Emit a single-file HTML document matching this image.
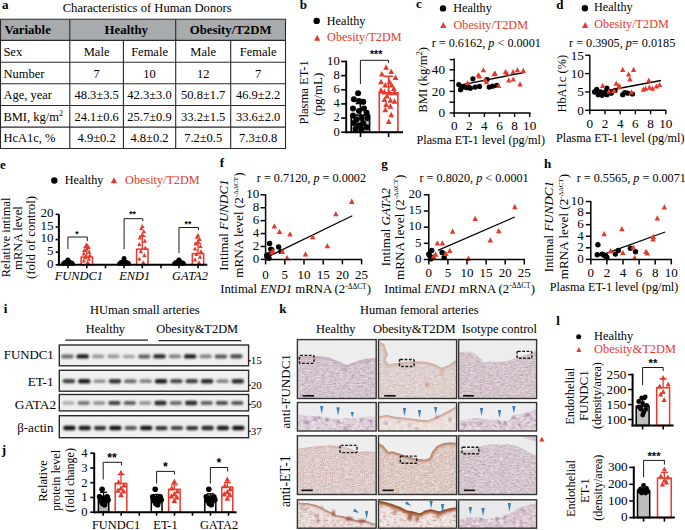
<!DOCTYPE html>
<html><head><meta charset="utf-8"><style>
html,body{margin:0;padding:0;background:#fff;}
svg{display:block;}
text{font-family:"Liberation Serif",serif;}
</style></head><body>
<svg xmlns="http://www.w3.org/2000/svg" width="685" height="530" viewBox="0 0 685 530">
<defs><filter id="bl" x="-50%" y="-100%" width="200%" height="300%"><feGaussianBlur stdDeviation="0.9"/></filter>
<filter id="pk1" x="0" y="0" width="1" height="1" color-interpolation-filters="sRGB"><feTurbulence type="fractalNoise" baseFrequency="0.35 0.9" numOctaves="3" seed="3"/><feColorMatrix type="matrix" values="0 0 0 0 0.647 0 0 0 0 0.549 0 0 0 0 0.627 1.5 0 0 0 -0.58"/><feGaussianBlur stdDeviation="0.4"/></filter>
<filter id="wh1" x="0" y="0" width="1" height="1" color-interpolation-filters="sRGB"><feTurbulence type="fractalNoise" baseFrequency="0.2 0.7" numOctaves="2" seed="8"/><feColorMatrix type="matrix" values="0 0 0 0 0.941 0 0 0 0 0.925 0 0 0 0 0.933 1.6 0 0 0 -0.68"/><feGaussianBlur stdDeviation="0.4"/></filter>
<filter id="br1" x="0" y="0" width="1" height="1" color-interpolation-filters="sRGB"><feTurbulence type="fractalNoise" baseFrequency="0.9" numOctaves="2" seed="5"/><feColorMatrix type="matrix" values="0 0 0 0 0.686 0 0 0 0 0.529 0 0 0 0 0.490 1.2 0 0 0 -0.48"/><feGaussianBlur stdDeviation="0.35"/></filter>
<filter id="br2" x="0" y="0" width="1" height="1" color-interpolation-filters="sRGB"><feTurbulence type="fractalNoise" baseFrequency="0.9" numOctaves="2" seed="11"/><feColorMatrix type="matrix" values="0 0 0 0 0.686 0 0 0 0 0.490 0 0 0 0 0.439 1.4 0 0 0 -0.55"/><feGaussianBlur stdDeviation="0.35"/></filter>
<filter id="pu2" x="0" y="0" width="1" height="1" color-interpolation-filters="sRGB"><feTurbulence type="fractalNoise" baseFrequency="0.3 0.5" numOctaves="2" seed="7"/><feColorMatrix type="matrix" values="0 0 0 0 0.647 0 0 0 0 0.529 0 0 0 0 0.667 1.6 0 0 0 -0.72"/><feGaussianBlur stdDeviation="0.5"/></filter>
<filter id="wh2" x="0" y="0" width="1" height="1" color-interpolation-filters="sRGB"><feTurbulence type="fractalNoise" baseFrequency="0.25 0.4" numOctaves="2" seed="17"/><feColorMatrix type="matrix" values="0 0 0 0 0.973 0 0 0 0 0.957 0 0 0 0 0.965 2.0 0 0 0 -0.85"/><feGaussianBlur stdDeviation="0.5"/></filter>
<filter id="br3" x="0" y="0" width="1" height="1" color-interpolation-filters="sRGB"><feTurbulence type="fractalNoise" baseFrequency="0.3 0.5" numOctaves="2" seed="19"/><feColorMatrix type="matrix" values="0 0 0 0 0.667 0 0 0 0 0.412 0 0 0 0 0.353 1.8 0 0 0 -0.85"/><feGaussianBlur stdDeviation="0.5"/></filter>
<filter id="sb" x="-20%" y="-50%" width="140%" height="200%"><feGaussianBlur stdDeviation="0.8"/></filter></defs>
<text x="2" y="8.8" font-size="13" font-weight="bold">a</text>
<text x="62.7" y="12.3" font-size="12.6">Characteristics of Human Donors</text>
<rect x="0.5" y="19.2" width="285.0" height="21.2" fill="#a8abad"/>
<line x1="0" y1="19.2" x2="286" y2="19.2" stroke="#2a2a2a" stroke-width="1.1"/>
<line x1="0" y1="40.4" x2="286" y2="40.4" stroke="#2a2a2a" stroke-width="1.1"/>
<line x1="0" y1="62.3" x2="286" y2="62.3" stroke="#2a2a2a" stroke-width="1.1"/>
<line x1="0" y1="83.8" x2="286" y2="83.8" stroke="#2a2a2a" stroke-width="1.1"/>
<line x1="0" y1="105.5" x2="286" y2="105.5" stroke="#2a2a2a" stroke-width="1.1"/>
<line x1="0" y1="127.1" x2="286" y2="127.1" stroke="#2a2a2a" stroke-width="1.1"/>
<line x1="0" y1="148.5" x2="286" y2="148.5" stroke="#2a2a2a" stroke-width="1.1"/>
<line x1="0.5" y1="19.2" x2="0.5" y2="148.5" stroke="#2a2a2a" stroke-width="1.1"/>
<line x1="69.8" y1="19.2" x2="69.8" y2="148.5" stroke="#2a2a2a" stroke-width="1.1"/>
<line x1="123.4" y1="40.4" x2="123.4" y2="148.5" stroke="#2a2a2a" stroke-width="1.1"/>
<line x1="175.7" y1="19.2" x2="175.7" y2="148.5" stroke="#2a2a2a" stroke-width="1.1"/>
<line x1="230.7" y1="40.4" x2="230.7" y2="148.5" stroke="#2a2a2a" stroke-width="1.1"/>
<line x1="285.5" y1="19.2" x2="285.5" y2="148.5" stroke="#2a2a2a" stroke-width="1.1"/>
<text x="4.4" y="34.1" font-size="12.8" font-weight="bold">Variable</text>
<text x="126.3" y="34.1" font-size="12.8" font-weight="bold" text-anchor="middle">Healthy</text>
<text x="230.6" y="34.1" font-size="12.8" font-weight="bold" text-anchor="middle">Obesity/T2DM</text>
<text x="3.4" y="55.599999999999994" font-size="12.5">Sex</text>
<text x="96.6" y="55.599999999999994" font-size="12.5" text-anchor="middle">Male</text>
<text x="149.55" y="55.599999999999994" font-size="12.5" text-anchor="middle">Female</text>
<text x="203.2" y="55.599999999999994" font-size="12.5" text-anchor="middle">Male</text>
<text x="258.1" y="55.599999999999994" font-size="12.5" text-anchor="middle">Female</text>
<text x="3.4" y="77.5" font-size="12.5">Number</text>
<text x="96.6" y="77.5" font-size="12.5" text-anchor="middle">7</text>
<text x="149.55" y="77.5" font-size="12.5" text-anchor="middle">10</text>
<text x="203.2" y="77.5" font-size="12.5" text-anchor="middle">12</text>
<text x="258.1" y="77.5" font-size="12.5" text-anchor="middle">7</text>
<text x="3.4" y="99.0" font-size="12.5">Age, year</text>
<text x="96.6" y="99.0" font-size="12.5" text-anchor="middle">48.3±3.5</text>
<text x="149.55" y="99.0" font-size="12.5" text-anchor="middle">42.3±3.0</text>
<text x="203.2" y="99.0" font-size="12.5" text-anchor="middle">50.8±1.7</text>
<text x="258.1" y="99.0" font-size="12.5" text-anchor="middle">46.9±2.2</text>
<text x="3.4" y="120.7" font-size="12.5">BMI, kg/m<tspan font-size="8" dy="-4.5">2</tspan></text>
<text x="96.6" y="120.7" font-size="12.5" text-anchor="middle">24.1±0.6</text>
<text x="149.55" y="120.7" font-size="12.5" text-anchor="middle">25.7±0.9</text>
<text x="203.2" y="120.7" font-size="12.5" text-anchor="middle">33.2±1.5</text>
<text x="258.1" y="120.7" font-size="12.5" text-anchor="middle">33.6±2.0</text>
<text x="3.4" y="142.29999999999998" font-size="12.5">HcA1c, %</text>
<text x="96.6" y="142.29999999999998" font-size="12.5" text-anchor="middle">4.9±0.2</text>
<text x="149.55" y="142.29999999999998" font-size="12.5" text-anchor="middle">4.8±0.2</text>
<text x="203.2" y="142.29999999999998" font-size="12.5" text-anchor="middle">7.2±0.5</text>
<text x="258.1" y="142.29999999999998" font-size="12.5" text-anchor="middle">7.3±0.8</text>
<text x="299.8" y="8.8" font-size="13" font-weight="bold">b</text>
<circle cx="316.7" cy="20.9" r="3.2" fill="#000"/>
<text x="326.8" y="24.9" font-size="12.2">Healthy</text>
<path d="M314.1 40.8L317.2 34.8L320.3 40.8Z" fill="#e8392a"/>
<text x="327.1" y="41.2" font-size="12.2" fill="#e8392a">Obesity/T2DM</text>
<rect x="351.2" y="115.1" width="18.4" height="17.099999999999994" fill="#b4b4b4" stroke="#000" stroke-width="1.6"/>
<circle cx="358.1" cy="93.3" r="3.0" fill="#000"/>
<circle cx="353.9" cy="99.2" r="3.0" fill="#000"/>
<circle cx="363.2" cy="101.8" r="3.0" fill="#000"/>
<circle cx="359.0" cy="100.9" r="3.0" fill="#000"/>
<circle cx="353.0" cy="108.6" r="3.0" fill="#000"/>
<circle cx="364.0" cy="108.6" r="3.0" fill="#000"/>
<circle cx="359.0" cy="111.1" r="3.0" fill="#000"/>
<circle cx="366.6" cy="112.8" r="3.0" fill="#000"/>
<circle cx="353.0" cy="115.4" r="3.0" fill="#000"/>
<circle cx="361.5" cy="117.9" r="3.0" fill="#000"/>
<circle cx="356.4" cy="119.6" r="3.0" fill="#000"/>
<circle cx="367.4" cy="117.9" r="3.0" fill="#000"/>
<circle cx="353.9" cy="123.0" r="3.0" fill="#000"/>
<circle cx="363.2" cy="123.0" r="3.0" fill="#000"/>
<circle cx="359.0" cy="125.6" r="3.0" fill="#000"/>
<circle cx="366.6" cy="127.2" r="3.0" fill="#000"/>
<circle cx="355.6" cy="128.9" r="3.0" fill="#000"/>
<circle cx="361.5" cy="128.9" r="3.0" fill="#000"/>
<line x1="360.4" y1="115" x2="360.4" y2="103.5" stroke="#000" stroke-width="1.6"/>
<line x1="355.6" y1="103.5" x2="365.4" y2="103.5" stroke="#000" stroke-width="1.6"/>
<rect x="379.3" y="92.8" width="18.6" height="39.39999999999999" fill="none" stroke="#e8392a" stroke-width="1.6"/>
<line x1="388.6" y1="92.8" x2="388.6" y2="76.3" stroke="#e8392a" stroke-width="1.6"/>
<line x1="384" y1="76.3" x2="393.2" y2="76.3" stroke="#e8392a" stroke-width="1.6"/>
<path d="M383.2 69.7L386.1 64.2L389.0 69.7Z" fill="#e8392a"/>
<path d="M388.3 74.0L391.2 68.5L394.1 74.0Z" fill="#e8392a"/>
<path d="M379.0 76.5L381.9 71.0L384.8 76.5Z" fill="#e8392a"/>
<path d="M392.6 79.9L395.5 74.4L398.4 79.9Z" fill="#e8392a"/>
<path d="M378.1 84.2L381.0 78.7L383.9 84.2Z" fill="#e8392a"/>
<path d="M386.6 84.2L389.5 78.7L392.4 84.2Z" fill="#e8392a"/>
<path d="M382.4 87.6L385.3 82.0L388.2 87.6Z" fill="#e8392a"/>
<path d="M388.7 87.6L391.6 82.0L394.5 87.6Z" fill="#e8392a"/>
<path d="M390.9 91.0L393.8 85.4L396.7 91.0Z" fill="#e8392a"/>
<path d="M378.1 92.7L381.0 87.1L383.9 92.7Z" fill="#e8392a"/>
<path d="M381.5 94.4L384.4 88.8L387.3 94.4Z" fill="#e8392a"/>
<path d="M386.6 95.2L389.5 89.7L392.4 95.2Z" fill="#e8392a"/>
<path d="M391.7 95.2L394.6 89.7L397.5 95.2Z" fill="#e8392a"/>
<path d="M384.1 98.6L387.0 93.1L389.9 98.6Z" fill="#e8392a"/>
<path d="M381.5 102.0L384.4 96.5L387.3 102.0Z" fill="#e8392a"/>
<path d="M387.5 102.8L390.4 97.3L393.3 102.8Z" fill="#e8392a"/>
<path d="M391.7 103.7L394.6 98.2L397.5 103.7Z" fill="#e8392a"/>
<path d="M383.2 107.1L386.1 101.6L389.0 107.1Z" fill="#e8392a"/>
<path d="M387.5 108.8L390.4 103.3L393.3 108.8Z" fill="#e8392a"/>
<path d="M382.4 112.2L385.3 106.7L388.2 112.2Z" fill="#e8392a"/>
<path d="M388.3 117.3L391.2 111.8L394.1 117.3Z" fill="#e8392a"/>
<path d="M385.8 124.1L388.7 118.6L391.6 124.1Z" fill="#e8392a"/>
<line x1="346.2" y1="60.7" x2="346.2" y2="133.2" stroke="#000" stroke-width="1.9"/>
<line x1="345.3" y1="132.2" x2="403" y2="132.2" stroke="#000" stroke-width="1.9"/>
<line x1="341.2" y1="132.2" x2="346" y2="132.2" stroke="#000" stroke-width="1.6"/>
<text x="339.7" y="135.5" font-size="12.6" text-anchor="end">0</text>
<line x1="341.2" y1="118.05999999999999" x2="346" y2="118.05999999999999" stroke="#000" stroke-width="1.6"/>
<text x="339.7" y="121.35999999999999" font-size="12.6" text-anchor="end">2</text>
<line x1="341.2" y1="103.91999999999999" x2="346" y2="103.91999999999999" stroke="#000" stroke-width="1.6"/>
<text x="339.7" y="107.21999999999998" font-size="12.6" text-anchor="end">4</text>
<line x1="341.2" y1="89.78" x2="346" y2="89.78" stroke="#000" stroke-width="1.6"/>
<text x="339.7" y="93.08" font-size="12.6" text-anchor="end">6</text>
<line x1="341.2" y1="75.64" x2="346" y2="75.64" stroke="#000" stroke-width="1.6"/>
<text x="339.7" y="78.94" font-size="12.6" text-anchor="end">8</text>
<line x1="341.2" y1="61.5" x2="346" y2="61.5" stroke="#000" stroke-width="1.6"/>
<text x="339.7" y="64.8" font-size="12.6" text-anchor="end">10</text>
<line x1="360.5" y1="132.2" x2="360.5" y2="137" stroke="#000" stroke-width="1.6"/>
<line x1="388.6" y1="132.2" x2="388.6" y2="137" stroke="#000" stroke-width="1.6"/>
<path d="M360.4 84V60.3H388.6V63" fill="none" stroke="#000" stroke-width="0.9"/>
<text x="376.1" y="58.0" font-size="10.5" font-weight="bold" text-anchor="middle" style="font-family:'Liberation Sans',sans-serif">***</text>
<text transform="translate(307.9,124.6) rotate(-90)" font-size="12.65">Plasma ET-1</text>
<text transform="translate(321.6,94.2) rotate(-90)" font-size="12.9" text-anchor="middle">(pg/mL)</text>
<text x="416" y="7.8" font-size="13" font-weight="bold">c</text>
<circle cx="443.0" cy="8.4" r="3.2" fill="#000"/>
<text x="453.2" y="11.8" font-size="12.2">Healthy</text>
<path d="M440.2 27.9L443.3 21.9L446.4 27.9Z" fill="#e8392a"/>
<text x="453.5" y="28.7" font-size="12.2" fill="#e8392a">Obesity/T2DM</text>
<text x="431.7" y="46.9" font-size="12.2">r = 0.6162, <tspan font-style="italic">p</tspan> &lt; 0.0001</text>
<line x1="458.8" y1="85.4" x2="524" y2="72.5" stroke="#000" stroke-width="1.3"/>
<circle cx="458.8" cy="84.5" r="2.6" fill="#000"/>
<circle cx="460.6" cy="89.7" r="2.6" fill="#000"/>
<circle cx="463.2" cy="87.1" r="2.6" fill="#000"/>
<circle cx="466.0" cy="86.4" r="2.6" fill="#000"/>
<circle cx="468.6" cy="87.1" r="2.6" fill="#000"/>
<circle cx="470.3" cy="88.2" r="2.6" fill="#000"/>
<circle cx="472.9" cy="78.8" r="2.6" fill="#000"/>
<circle cx="475.1" cy="87.1" r="2.6" fill="#000"/>
<circle cx="479.5" cy="86.4" r="2.6" fill="#000"/>
<circle cx="487.1" cy="79.5" r="2.6" fill="#000"/>
<circle cx="489.2" cy="87.1" r="2.6" fill="#000"/>
<circle cx="492.5" cy="86.2" r="2.6" fill="#000"/>
<circle cx="496.8" cy="85.4" r="2.6" fill="#000"/>
<circle cx="461.2" cy="87.1" r="2.6" fill="#000"/>
<circle cx="466.9" cy="87.7" r="2.6" fill="#000"/>
<path d="M464.8 85.3L467.5 80.2L470.2 85.3Z" fill="#e8392a"/>
<path d="M475.7 77.3L478.4 72.2L481.1 77.3Z" fill="#e8392a"/>
<path d="M476.8 78.4L479.5 73.2L482.2 78.4Z" fill="#e8392a"/>
<path d="M480.7 72.3L483.4 67.2L486.1 72.3Z" fill="#e8392a"/>
<path d="M482.2 82.1L484.9 76.9L487.6 82.1Z" fill="#e8392a"/>
<path d="M483.7 84.2L486.4 79.1L489.1 84.2Z" fill="#e8392a"/>
<path d="M491.5 76.2L494.2 71.1L496.9 76.2Z" fill="#e8392a"/>
<path d="M492.4 75.8L495.1 70.6L497.8 75.8Z" fill="#e8392a"/>
<path d="M495.9 88.1L498.6 83.0L501.3 88.1Z" fill="#e8392a"/>
<path d="M502.8 74.0L505.5 68.9L508.2 74.0Z" fill="#e8392a"/>
<path d="M504.3 75.8L507.0 70.6L509.7 75.8Z" fill="#e8392a"/>
<path d="M506.1 82.5L508.8 77.4L511.5 82.5Z" fill="#e8392a"/>
<path d="M510.4 74.0L513.1 68.9L515.8 74.0Z" fill="#e8392a"/>
<path d="M510.6 81.6L513.3 76.5L516.0 81.6Z" fill="#e8392a"/>
<path d="M514.7 72.3L517.4 67.2L520.1 72.3Z" fill="#e8392a"/>
<path d="M517.3 86.4L520.0 81.3L522.7 86.4Z" fill="#e8392a"/>
<path d="M520.6 72.9L523.3 67.8L526.0 72.9Z" fill="#e8392a"/>
<line x1="454.2" y1="58.4" x2="454.2" y2="113.7" stroke="#000" stroke-width="1.4"/>
<line x1="453.5" y1="113.0" x2="530.5" y2="113.0" stroke="#000" stroke-width="1.4"/>
<line x1="449.59999999999997" y1="102.2" x2="454.2" y2="102.2" stroke="#000" stroke-width="1.4"/>
<line x1="449.59999999999997" y1="80.6" x2="454.2" y2="80.6" stroke="#000" stroke-width="1.4"/>
<line x1="449.59999999999997" y1="59.6" x2="454.2" y2="59.6" stroke="#000" stroke-width="1.4"/>
<line x1="449.59999999999997" y1="113.0" x2="454.2" y2="113.0" stroke="#000" stroke-width="1.4"/>
<text x="445.0" y="117.2" font-size="13.2" text-anchor="end">0</text>
<line x1="449.59999999999997" y1="91.4" x2="454.2" y2="91.4" stroke="#000" stroke-width="1.4"/>
<text x="445.0" y="95.60000000000001" font-size="13.2" text-anchor="end">20</text>
<line x1="449.59999999999997" y1="69.8" x2="454.2" y2="69.8" stroke="#000" stroke-width="1.4"/>
<text x="445.0" y="74.0" font-size="13.2" text-anchor="end">40</text>
<line x1="454.2" y1="113.0" x2="454.2" y2="117.0" stroke="#000" stroke-width="1.4"/>
<text x="454.2" y="129.6" font-size="13.2" text-anchor="middle">0</text>
<line x1="469.3" y1="113.0" x2="469.3" y2="117.0" stroke="#000" stroke-width="1.4"/>
<text x="469.3" y="129.6" font-size="13.2" text-anchor="middle">2</text>
<line x1="484.4" y1="113.0" x2="484.4" y2="117.0" stroke="#000" stroke-width="1.4"/>
<text x="484.4" y="129.6" font-size="13.2" text-anchor="middle">4</text>
<line x1="499.5" y1="113.0" x2="499.5" y2="117.0" stroke="#000" stroke-width="1.4"/>
<text x="499.5" y="129.6" font-size="13.2" text-anchor="middle">6</text>
<line x1="514.6" y1="113.0" x2="514.6" y2="117.0" stroke="#000" stroke-width="1.4"/>
<text x="514.6" y="129.6" font-size="13.2" text-anchor="middle">8</text>
<line x1="529.7" y1="113.0" x2="529.7" y2="117.0" stroke="#000" stroke-width="1.4"/>
<text x="529.7" y="129.6" font-size="13.2" text-anchor="middle">10</text>
<text x="416.5" y="143.5" font-size="12.2">Plasma ET-1 level (pg/ml)</text>
<text transform="translate(426.6,112.8) rotate(-90)" font-size="12.7">BMI (kg/m<tspan font-size="8.2" dy="-4.8">2</tspan><tspan dy="4.8">)</tspan></text>
<text x="556.2" y="8.6" font-size="13" font-weight="bold">d</text>
<circle cx="584.9" cy="8.2" r="3.2" fill="#000"/>
<text x="594" y="11.2" font-size="12.2">Healthy</text>
<path d="M582.0 27.9L585.2 21.9L588.3 27.9Z" fill="#e8392a"/>
<text x="594.3" y="28.2" font-size="12.2" fill="#e8392a">Obesity/T2DM</text>
<text x="569.1" y="46.6" font-size="12.2">r = 0.3905, <tspan font-style="italic">p</tspan>= 0.0185</text>
<line x1="597" y1="92.5" x2="661" y2="80.5" stroke="#000" stroke-width="1.3"/>
<circle cx="594.5" cy="91.9" r="2.6" fill="#000"/>
<circle cx="596.7" cy="89.3" r="2.6" fill="#000"/>
<circle cx="598.2" cy="94.7" r="2.6" fill="#000"/>
<circle cx="600.4" cy="91.9" r="2.6" fill="#000"/>
<circle cx="602.1" cy="95.3" r="2.6" fill="#000"/>
<circle cx="603.8" cy="93.2" r="2.6" fill="#000"/>
<circle cx="605.4" cy="91.9" r="2.6" fill="#000"/>
<circle cx="606.9" cy="88.2" r="2.6" fill="#000"/>
<circle cx="606.9" cy="94.7" r="2.6" fill="#000"/>
<circle cx="609.0" cy="91.9" r="2.6" fill="#000"/>
<circle cx="611.2" cy="93.2" r="2.6" fill="#000"/>
<circle cx="615.1" cy="90.4" r="2.6" fill="#000"/>
<circle cx="622.7" cy="94.7" r="2.6" fill="#000"/>
<circle cx="624.9" cy="92.5" r="2.6" fill="#000"/>
<circle cx="627.7" cy="93.2" r="2.6" fill="#000"/>
<circle cx="632.5" cy="94.0" r="2.6" fill="#000"/>
<circle cx="595.6" cy="91.9" r="2.6" fill="#000"/>
<circle cx="599.5" cy="93.2" r="2.6" fill="#000"/>
<path d="M600.0 87.9L602.7 82.8L605.4 87.9Z" fill="#e8392a"/>
<path d="M606.3 93.6L609.0 88.4L611.7 93.6Z" fill="#e8392a"/>
<path d="M611.3 92.9L614.0 87.8L616.7 92.9Z" fill="#e8392a"/>
<path d="M613.5 85.8L616.2 80.6L618.9 85.8Z" fill="#e8392a"/>
<path d="M616.3 87.9L619.0 82.8L621.7 87.9Z" fill="#e8392a"/>
<path d="M617.2 89.2L619.9 84.1L622.6 89.2Z" fill="#e8392a"/>
<path d="M620.0 71.9L622.7 66.7L625.4 71.9Z" fill="#e8392a"/>
<path d="M625.9 76.6L628.6 71.5L631.3 76.6Z" fill="#e8392a"/>
<path d="M627.2 81.4L629.9 76.3L632.6 81.4Z" fill="#e8392a"/>
<path d="M628.7 94.4L631.4 89.3L634.1 94.4Z" fill="#e8392a"/>
<path d="M630.9 71.9L633.6 66.7L636.3 71.9Z" fill="#e8392a"/>
<path d="M640.6 91.8L643.3 86.7L646.0 91.8Z" fill="#e8392a"/>
<path d="M642.8 90.7L645.5 85.6L648.2 90.7Z" fill="#e8392a"/>
<path d="M646.1 82.7L648.8 77.6L651.5 82.7Z" fill="#e8392a"/>
<path d="M646.7 89.7L649.4 84.5L652.1 89.7Z" fill="#e8392a"/>
<path d="M649.8 90.7L652.5 85.6L655.2 90.7Z" fill="#e8392a"/>
<path d="M653.7 88.6L656.4 83.4L659.1 88.6Z" fill="#e8392a"/>
<path d="M656.9 87.1L659.6 81.9L662.3 87.1Z" fill="#e8392a"/>
<line x1="589.8" y1="55" x2="589.8" y2="111.0" stroke="#000" stroke-width="1.4"/>
<line x1="589.0999999999999" y1="110.3" x2="666.2" y2="110.3" stroke="#000" stroke-width="1.4"/>
<line x1="585.1999999999999" y1="110.3" x2="589.8" y2="110.3" stroke="#000" stroke-width="1.4"/>
<text x="583.9" y="114.8" font-size="13.2" text-anchor="end">0</text>
<line x1="585.1999999999999" y1="91.94999999999999" x2="589.8" y2="91.94999999999999" stroke="#000" stroke-width="1.4"/>
<text x="583.9" y="96.44999999999999" font-size="13.2" text-anchor="end">5</text>
<line x1="585.1999999999999" y1="73.6" x2="589.8" y2="73.6" stroke="#000" stroke-width="1.4"/>
<text x="583.9" y="78.1" font-size="13.2" text-anchor="end">10</text>
<line x1="585.1999999999999" y1="55.24999999999999" x2="589.8" y2="55.24999999999999" stroke="#000" stroke-width="1.4"/>
<text x="583.9" y="59.74999999999999" font-size="13.2" text-anchor="end">15</text>
<line x1="589.8" y1="110.3" x2="589.8" y2="114.3" stroke="#000" stroke-width="1.4"/>
<text x="589.8" y="128.3" font-size="13.2" text-anchor="middle">0</text>
<line x1="605.0" y1="110.3" x2="605.0" y2="114.3" stroke="#000" stroke-width="1.4"/>
<text x="605.0" y="128.3" font-size="13.2" text-anchor="middle">2</text>
<line x1="620.1999999999999" y1="110.3" x2="620.1999999999999" y2="114.3" stroke="#000" stroke-width="1.4"/>
<text x="620.1999999999999" y="128.3" font-size="13.2" text-anchor="middle">4</text>
<line x1="635.4" y1="110.3" x2="635.4" y2="114.3" stroke="#000" stroke-width="1.4"/>
<text x="635.4" y="128.3" font-size="13.2" text-anchor="middle">6</text>
<line x1="650.5999999999999" y1="110.3" x2="650.5999999999999" y2="114.3" stroke="#000" stroke-width="1.4"/>
<text x="650.5999999999999" y="128.3" font-size="13.2" text-anchor="middle">8</text>
<line x1="665.8" y1="110.3" x2="665.8" y2="114.3" stroke="#000" stroke-width="1.4"/>
<text x="665.8" y="128.3" font-size="13.2" text-anchor="middle">10</text>
<text x="556" y="142.4" font-size="12.2">Plasma ET-1 level (pg/ml)</text>
<text transform="translate(566.2,112.6) rotate(-90)" font-size="12.45">HbA1c (%)</text>
<text x="0.0" y="169.4" font-size="13" font-weight="bold">e</text>
<circle cx="54.3" cy="180.5" r="3.2" fill="#000"/>
<text x="64.8" y="184.3" font-size="12.2">Healthy</text>
<path d="M110.8 183.3L113.9 177.3L117.1 183.3Z" fill="#e8392a"/>
<text x="125.1" y="184.3" font-size="12.2" fill="#e8392a">Obesity/T2DM</text>
<text transform="translate(9.6,237.4) rotate(-90)" font-size="12.4" text-anchor="middle">Relative intimal</text>
<text transform="translate(21.9,238.1) rotate(-90)" font-size="12.7" text-anchor="middle">mRNA level</text>
<text transform="translate(35,237.5) rotate(-90)" font-size="12.9" text-anchor="middle">(fold of control)</text>
<circle cx="64.9" cy="262.3" r="2.4" fill="#000"/>
<circle cx="66.9" cy="261.3" r="2.4" fill="#000"/>
<circle cx="69.4" cy="261.8" r="2.4" fill="#000"/>
<circle cx="71.4" cy="262.8" r="2.4" fill="#000"/>
<circle cx="63.4" cy="263.6" r="2.4" fill="#000"/>
<circle cx="72.4" cy="263.6" r="2.4" fill="#000"/>
<circle cx="67.9" cy="259.8" r="2.4" fill="#000"/>
<circle cx="65.9" cy="263.6" r="2.4" fill="#000"/>
<circle cx="69.9" cy="263.6" r="2.4" fill="#000"/>
<rect x="81.1" y="257.1" width="11.4" height="7.7" fill="none" stroke="#e8392a" stroke-width="1.5"/>
<line x1="86.8" y1="257.1" x2="86.8" y2="247.5" stroke="#e8392a" stroke-width="1.4"/>
<line x1="83.3" y1="247.5" x2="90.3" y2="247.5" stroke="#e8392a" stroke-width="1.4"/>
<path d="M84.6 246.5L86.8 242.5L89.0 246.5Z" fill="#e8392a"/>
<path d="M83.6 247.7L85.8 243.6L88.0 247.7Z" fill="#e8392a"/>
<path d="M86.1 249.0L88.3 245.0L90.5 249.0Z" fill="#e8392a"/>
<path d="M84.6 250.5L86.8 246.5L89.0 250.5Z" fill="#e8392a"/>
<path d="M82.1 252.1L84.3 248.0L86.5 252.1Z" fill="#e8392a"/>
<path d="M87.1 253.7L89.3 249.6L91.5 253.7Z" fill="#e8392a"/>
<path d="M81.6 255.4L83.8 251.3L86.0 255.4Z" fill="#e8392a"/>
<path d="M87.6 257.1L89.8 253.0L92.0 257.1Z" fill="#e8392a"/>
<path d="M83.1 258.9L85.3 254.8L87.5 258.9Z" fill="#e8392a"/>
<path d="M86.6 260.7L88.8 256.6L91.0 260.7Z" fill="#e8392a"/>
<path d="M81.6 262.5L83.8 258.4L86.0 262.5Z" fill="#e8392a"/>
<path d="M85.6 264.3L87.8 260.3L90.0 264.3Z" fill="#e8392a"/>
<path d="M67.9 249V237H87.3V241" fill="none" stroke="#000" stroke-width="0.9"/>
<text x="76.8" y="237.1" font-size="8.5" font-weight="bold" text-anchor="middle" style="font-family:'Liberation Sans',sans-serif">*</text>
<text x="78.85" y="279.8" font-size="12.4" font-style="italic" text-anchor="middle">FUNDC1</text>
<circle cx="121.1" cy="262.3" r="2.4" fill="#000"/>
<circle cx="123.1" cy="261.3" r="2.4" fill="#000"/>
<circle cx="125.6" cy="261.8" r="2.4" fill="#000"/>
<circle cx="127.6" cy="262.8" r="2.4" fill="#000"/>
<circle cx="119.6" cy="263.6" r="2.4" fill="#000"/>
<circle cx="128.6" cy="263.6" r="2.4" fill="#000"/>
<circle cx="124.1" cy="258.3" r="2.4" fill="#000"/>
<circle cx="122.1" cy="263.6" r="2.4" fill="#000"/>
<circle cx="126.1" cy="263.6" r="2.4" fill="#000"/>
<rect x="136.6" y="249.2" width="11.4" height="15.6" fill="none" stroke="#e8392a" stroke-width="1.5"/>
<line x1="142.3" y1="249.2" x2="142.3" y2="236.3" stroke="#e8392a" stroke-width="1.4"/>
<line x1="138.8" y1="236.3" x2="145.8" y2="236.3" stroke="#e8392a" stroke-width="1.4"/>
<path d="M140.2 228.0L142.3 224.0L144.5 228.0Z" fill="#e8392a"/>
<path d="M139.2 230.3L141.3 226.3L143.5 230.3Z" fill="#e8392a"/>
<path d="M141.7 233.2L143.8 229.1L146.0 233.2Z" fill="#e8392a"/>
<path d="M140.2 236.2L142.3 232.1L144.5 236.2Z" fill="#e8392a"/>
<path d="M137.7 239.4L139.8 235.3L142.0 239.4Z" fill="#e8392a"/>
<path d="M142.7 242.7L144.8 238.6L147.0 242.7Z" fill="#e8392a"/>
<path d="M137.2 246.1L139.3 242.0L141.5 246.1Z" fill="#e8392a"/>
<path d="M143.2 249.6L145.3 245.5L147.5 249.6Z" fill="#e8392a"/>
<path d="M138.7 253.2L140.8 249.1L143.0 253.2Z" fill="#e8392a"/>
<path d="M142.2 256.9L144.3 252.8L146.5 256.9Z" fill="#e8392a"/>
<path d="M137.2 260.6L139.3 256.5L141.5 260.6Z" fill="#e8392a"/>
<path d="M141.2 264.3L143.3 260.3L145.5 264.3Z" fill="#e8392a"/>
<path d="M124.1 249.2V218.7H142.8V221" fill="none" stroke="#000" stroke-width="0.9"/>
<text x="132.6" y="217.2" font-size="8.5" font-weight="bold" text-anchor="middle" style="font-family:'Liberation Sans',sans-serif">**</text>
<text x="134.7" y="279.8" font-size="12.4" font-style="italic" text-anchor="middle">END1</text>
<circle cx="176.0" cy="262.3" r="2.4" fill="#000"/>
<circle cx="178.0" cy="261.3" r="2.4" fill="#000"/>
<circle cx="180.5" cy="261.8" r="2.4" fill="#000"/>
<circle cx="182.5" cy="262.8" r="2.4" fill="#000"/>
<circle cx="174.5" cy="263.6" r="2.4" fill="#000"/>
<circle cx="183.5" cy="263.6" r="2.4" fill="#000"/>
<circle cx="179.0" cy="259.8" r="2.4" fill="#000"/>
<circle cx="177.0" cy="263.6" r="2.4" fill="#000"/>
<circle cx="181.0" cy="263.6" r="2.4" fill="#000"/>
<rect x="192.3" y="253.7" width="11.4" height="11.1" fill="none" stroke="#e8392a" stroke-width="1.5"/>
<line x1="198" y1="253.7" x2="198" y2="243.5" stroke="#e8392a" stroke-width="1.4"/>
<line x1="194.5" y1="243.5" x2="201.5" y2="243.5" stroke="#e8392a" stroke-width="1.4"/>
<path d="M195.8 237.0L198.0 233.0L200.2 237.0Z" fill="#e8392a"/>
<path d="M194.8 238.8L197.0 234.7L199.2 238.8Z" fill="#e8392a"/>
<path d="M197.3 240.9L199.5 236.8L201.7 240.9Z" fill="#e8392a"/>
<path d="M195.8 243.2L198.0 239.1L200.2 243.2Z" fill="#e8392a"/>
<path d="M193.3 245.6L195.5 241.5L197.7 245.6Z" fill="#e8392a"/>
<path d="M198.3 248.1L200.5 244.0L202.7 248.1Z" fill="#e8392a"/>
<path d="M192.8 250.6L195.0 246.6L197.2 250.6Z" fill="#e8392a"/>
<path d="M198.8 253.3L201.0 249.2L203.2 253.3Z" fill="#e8392a"/>
<path d="M194.3 256.0L196.5 251.9L198.7 256.0Z" fill="#e8392a"/>
<path d="M197.8 258.7L200.0 254.6L202.2 258.7Z" fill="#e8392a"/>
<path d="M192.8 261.5L195.0 257.4L197.2 261.5Z" fill="#e8392a"/>
<path d="M196.8 264.3L199.0 260.3L201.2 264.3Z" fill="#e8392a"/>
<path d="M179 253.2V227.5H198.5V230" fill="none" stroke="#000" stroke-width="0.9"/>
<text x="187.9" y="226.7" font-size="8.5" font-weight="bold" text-anchor="middle" style="font-family:'Liberation Sans',sans-serif">**</text>
<text x="190.0" y="279.8" font-size="12.4" font-style="italic" text-anchor="middle">GATA2</text>
<line x1="58.9" y1="214.3" x2="58.9" y2="265.8" stroke="#000" stroke-width="2"/>
<line x1="57.9" y1="264.8" x2="207.3" y2="264.8" stroke="#000" stroke-width="2"/>
<line x1="55.6" y1="264.8" x2="58.9" y2="264.8" stroke="#000" stroke-width="1.6"/>
<text x="53.6" y="267.6" font-size="13.0" text-anchor="end">0</text>
<line x1="55.6" y1="252.18" x2="58.9" y2="252.18" stroke="#000" stroke-width="1.6"/>
<text x="53.6" y="254.98000000000002" font-size="13.0" text-anchor="end">5</text>
<line x1="55.6" y1="239.56" x2="58.9" y2="239.56" stroke="#000" stroke-width="1.6"/>
<text x="53.6" y="242.36" font-size="13.0" text-anchor="end">10</text>
<line x1="55.6" y1="226.94" x2="58.9" y2="226.94" stroke="#000" stroke-width="1.6"/>
<text x="53.6" y="229.74" font-size="13.0" text-anchor="end">15</text>
<line x1="55.6" y1="214.32000000000002" x2="58.9" y2="214.32000000000002" stroke="#000" stroke-width="1.6"/>
<text x="53.6" y="217.12000000000003" font-size="13.0" text-anchor="end">20</text>
<line x1="67.9" y1="264.8" x2="67.9" y2="268.3" stroke="#000" stroke-width="1.6"/>
<line x1="86.8" y1="264.8" x2="86.8" y2="268.3" stroke="#000" stroke-width="1.6"/>
<line x1="105.5" y1="264.8" x2="105.5" y2="268.3" stroke="#000" stroke-width="1.6"/>
<line x1="124.1" y1="264.8" x2="124.1" y2="268.3" stroke="#000" stroke-width="1.6"/>
<line x1="142.3" y1="264.8" x2="142.3" y2="268.3" stroke="#000" stroke-width="1.6"/>
<line x1="161" y1="264.8" x2="161" y2="268.3" stroke="#000" stroke-width="1.6"/>
<line x1="179" y1="264.8" x2="179" y2="268.3" stroke="#000" stroke-width="1.6"/>
<line x1="198" y1="264.8" x2="198" y2="268.3" stroke="#000" stroke-width="1.6"/>
<text x="219.7" y="167" font-size="13" font-weight="bold">f</text>
<text x="256.8" y="181.7" font-size="12.2">r = 0.7120, <tspan font-style="italic">p</tspan> = 0.0002</text>
<text transform="translate(228.0,225.1) rotate(-90)" font-size="13.0" text-anchor="middle">Intimal <tspan font-style="italic">FUNDC1</tspan></text>
<text transform="translate(242.8,225.1) rotate(-90)" font-size="13.2" text-anchor="middle">mRNA level (2<tspan font-size="7" dy="-5.2">-ΔΔCT</tspan><tspan dy="5.2">)</tspan></text>
<line x1="270.7" y1="255.4" x2="352.3" y2="215.7" stroke="#000" stroke-width="1.2"/>
<circle cx="266.7" cy="255.4" r="2.7" fill="#000"/>
<circle cx="267.9" cy="257.1" r="2.7" fill="#000"/>
<circle cx="269.6" cy="243.5" r="2.7" fill="#000"/>
<circle cx="270.7" cy="249.1" r="2.7" fill="#000"/>
<circle cx="271.8" cy="249.7" r="2.7" fill="#000"/>
<circle cx="268.7" cy="254.8" r="2.7" fill="#000"/>
<circle cx="278.6" cy="246.9" r="2.7" fill="#000"/>
<circle cx="280.9" cy="251.4" r="2.7" fill="#000"/>
<circle cx="267.3" cy="257.6" r="2.7" fill="#000"/>
<circle cx="269.0" cy="258.2" r="2.7" fill="#000"/>
<path d="M271.6 228.5L274.4 223.3L277.1 228.5Z" fill="#e8392a"/>
<path d="M276.7 233.9L279.5 228.7L282.2 233.9Z" fill="#e8392a"/>
<path d="M287.2 236.4L290.0 231.2L292.7 236.4Z" fill="#e8392a"/>
<path d="M270.2 253.2L273.0 247.9L275.7 253.2Z" fill="#e8392a"/>
<path d="M279.6 254.0L282.3 248.8L285.1 254.0Z" fill="#e8392a"/>
<path d="M284.4 260.2L287.1 255.0L289.9 260.2Z" fill="#e8392a"/>
<path d="M302.8 256.5L305.5 251.3L308.3 256.5Z" fill="#e8392a"/>
<path d="M309.9 239.3L312.6 234.0L315.4 239.3Z" fill="#e8392a"/>
<path d="M324.6 248.3L327.3 243.1L330.1 248.3Z" fill="#e8392a"/>
<path d="M333.1 216.3L335.8 211.1L338.6 216.3Z" fill="#e8392a"/>
<path d="M349.0 203.9L351.7 198.6L354.5 203.9Z" fill="#e8392a"/>
<path d="M269.1 254.6L271.8 249.3L274.6 254.6Z" fill="#e8392a"/>
<line x1="265.6" y1="194.3" x2="265.6" y2="260.15" stroke="#000" stroke-width="1.5"/>
<line x1="264.85" y1="259.4" x2="362" y2="259.4" stroke="#000" stroke-width="1.5"/>
<line x1="260.6" y1="259.4" x2="265.6" y2="259.4" stroke="#000" stroke-width="1.5"/>
<text x="259.3" y="262.7" font-size="13.0" text-anchor="end">0</text>
<line x1="260.6" y1="246.48" x2="265.6" y2="246.48" stroke="#000" stroke-width="1.5"/>
<text x="259.3" y="249.78" font-size="13.0" text-anchor="end">2</text>
<line x1="260.6" y1="233.55999999999997" x2="265.6" y2="233.55999999999997" stroke="#000" stroke-width="1.5"/>
<text x="259.3" y="236.85999999999999" font-size="13.0" text-anchor="end">4</text>
<line x1="260.6" y1="220.64" x2="265.6" y2="220.64" stroke="#000" stroke-width="1.5"/>
<text x="259.3" y="223.94" font-size="13.0" text-anchor="end">6</text>
<line x1="260.6" y1="207.71999999999997" x2="265.6" y2="207.71999999999997" stroke="#000" stroke-width="1.5"/>
<text x="259.3" y="211.01999999999998" font-size="13.0" text-anchor="end">8</text>
<line x1="260.6" y1="194.79999999999998" x2="265.6" y2="194.79999999999998" stroke="#000" stroke-width="1.5"/>
<text x="259.3" y="198.1" font-size="13.0" text-anchor="end">10</text>
<line x1="265.6" y1="259.4" x2="265.6" y2="264.4" stroke="#000" stroke-width="1.5"/>
<text x="265.6" y="278.6" font-size="13.0" text-anchor="middle">0</text>
<line x1="284.8" y1="259.4" x2="284.8" y2="264.4" stroke="#000" stroke-width="1.5"/>
<text x="284.8" y="278.6" font-size="13.0" text-anchor="middle">5</text>
<line x1="304.0" y1="259.4" x2="304.0" y2="264.4" stroke="#000" stroke-width="1.5"/>
<text x="304.0" y="278.6" font-size="13.0" text-anchor="middle">10</text>
<line x1="323.20000000000005" y1="259.4" x2="323.20000000000005" y2="264.4" stroke="#000" stroke-width="1.5"/>
<text x="323.20000000000005" y="278.6" font-size="13.0" text-anchor="middle">15</text>
<line x1="342.40000000000003" y1="259.4" x2="342.40000000000003" y2="264.4" stroke="#000" stroke-width="1.5"/>
<text x="342.40000000000003" y="278.6" font-size="13.0" text-anchor="middle">20</text>
<line x1="361.6" y1="259.4" x2="361.6" y2="264.4" stroke="#000" stroke-width="1.5"/>
<text x="361.6" y="278.6" font-size="13.0" text-anchor="middle">25</text>
<text x="220.2" y="293.4" font-size="12.75">Intimal <tspan font-style="italic">END1</tspan> mRNA (2<tspan font-size="7.4" dy="-4.3">-ΔΔCT</tspan><tspan dy="4.3">)</tspan></text>
<text x="381.3" y="168" font-size="13" font-weight="bold">g</text>
<text x="419.5" y="181.7" font-size="12.2">r = 0.8020, <tspan font-style="italic">p</tspan> &lt; 0.0001</text>
<text transform="translate(389.6,227.1) rotate(-90)" font-size="13.0" text-anchor="middle">Intimal <tspan font-style="italic">GATA2</tspan></text>
<text transform="translate(403.6,227.3) rotate(-90)" font-size="13.2" text-anchor="middle">mRNA level (2<tspan font-size="7" dy="-5.2">-ΔΔCT</tspan><tspan dy="5.2">)</tspan></text>
<line x1="437.9" y1="250.4" x2="514.8" y2="217" stroke="#000" stroke-width="1.2"/>
<circle cx="428.8" cy="254.1" r="2.7" fill="#000"/>
<circle cx="431.7" cy="250.4" r="2.7" fill="#000"/>
<circle cx="432.8" cy="257.5" r="2.7" fill="#000"/>
<circle cx="430.8" cy="258.9" r="2.7" fill="#000"/>
<circle cx="442.1" cy="252.4" r="2.7" fill="#000"/>
<circle cx="444.1" cy="257.5" r="2.7" fill="#000"/>
<circle cx="429.4" cy="255.2" r="2.7" fill="#000"/>
<path d="M430.9 258.7L433.6 253.5L436.4 258.7Z" fill="#e8392a"/>
<path d="M432.9 256.7L435.6 251.5L438.4 256.7Z" fill="#e8392a"/>
<path d="M434.6 245.4L437.3 240.2L440.1 245.4Z" fill="#e8392a"/>
<path d="M439.7 245.4L442.4 240.2L445.2 245.4Z" fill="#e8392a"/>
<path d="M443.1 255.9L445.8 250.6L448.6 255.9Z" fill="#e8392a"/>
<path d="M447.0 253.0L449.8 247.8L452.5 253.0Z" fill="#e8392a"/>
<path d="M449.9 233.8L452.6 228.6L455.4 233.8Z" fill="#e8392a"/>
<path d="M465.7 260.7L468.4 255.4L471.2 260.7Z" fill="#e8392a"/>
<path d="M472.5 221.1L475.2 215.8L478.0 221.1Z" fill="#e8392a"/>
<path d="M487.5 242.6L490.2 237.3L493.0 242.6Z" fill="#e8392a"/>
<path d="M496.0 233.2L498.7 228.0L501.5 233.2Z" fill="#e8392a"/>
<path d="M512.1 209.2L514.8 204.0L517.6 209.2Z" fill="#e8392a"/>
<line x1="428.8" y1="194.3" x2="428.8" y2="260.25" stroke="#000" stroke-width="1.5"/>
<line x1="428.05" y1="259.5" x2="525" y2="259.5" stroke="#000" stroke-width="1.5"/>
<line x1="423.8" y1="259.5" x2="428.8" y2="259.5" stroke="#000" stroke-width="1.5"/>
<text x="421.6" y="262.8" font-size="13.0" text-anchor="end">0</text>
<line x1="423.8" y1="243.32" x2="428.8" y2="243.32" stroke="#000" stroke-width="1.5"/>
<text x="421.6" y="246.62" font-size="13.0" text-anchor="end">5</text>
<line x1="423.8" y1="227.14" x2="428.8" y2="227.14" stroke="#000" stroke-width="1.5"/>
<text x="421.6" y="230.44" font-size="13.0" text-anchor="end">10</text>
<line x1="423.8" y1="210.96" x2="428.8" y2="210.96" stroke="#000" stroke-width="1.5"/>
<text x="421.6" y="214.26000000000002" font-size="13.0" text-anchor="end">15</text>
<line x1="423.8" y1="194.78" x2="428.8" y2="194.78" stroke="#000" stroke-width="1.5"/>
<text x="421.6" y="198.08" font-size="13.0" text-anchor="end">20</text>
<line x1="428.8" y1="259.5" x2="428.8" y2="264.5" stroke="#000" stroke-width="1.5"/>
<text x="428.8" y="276.9" font-size="13.0" text-anchor="middle">0</text>
<line x1="447.90000000000003" y1="259.5" x2="447.90000000000003" y2="264.5" stroke="#000" stroke-width="1.5"/>
<text x="447.90000000000003" y="276.9" font-size="13.0" text-anchor="middle">5</text>
<line x1="467.0" y1="259.5" x2="467.0" y2="264.5" stroke="#000" stroke-width="1.5"/>
<text x="467.0" y="276.9" font-size="13.0" text-anchor="middle">10</text>
<line x1="486.1" y1="259.5" x2="486.1" y2="264.5" stroke="#000" stroke-width="1.5"/>
<text x="486.1" y="276.9" font-size="13.0" text-anchor="middle">15</text>
<line x1="505.20000000000005" y1="259.5" x2="505.20000000000005" y2="264.5" stroke="#000" stroke-width="1.5"/>
<text x="505.20000000000005" y="276.9" font-size="13.0" text-anchor="middle">20</text>
<line x1="524.3" y1="259.5" x2="524.3" y2="264.5" stroke="#000" stroke-width="1.5"/>
<text x="524.3" y="276.9" font-size="13.0" text-anchor="middle">25</text>
<text x="384.2" y="292.6" font-size="12.75">Intimal <tspan font-style="italic">END1</tspan> mRNA (2<tspan font-size="7.4" dy="-4.3">-ΔΔCT</tspan><tspan dy="4.3">)</tspan></text>
<text x="543.9" y="167.5" font-size="13" font-weight="bold">h</text>
<text x="576.7" y="181.7" font-size="12.2">r = 0.5565, <tspan font-style="italic">p</tspan> = 0.0071</text>
<text transform="translate(552.8,226.7) rotate(-90)" font-size="13.0" text-anchor="middle">Intimal <tspan font-style="italic">FUNDC1</tspan></text>
<text transform="translate(567.7,226.6) rotate(-90)" font-size="13.2" text-anchor="middle">mRNA level (2<tspan font-size="7" dy="-5.2">-ΔΔCT</tspan><tspan dy="5.2">)</tspan></text>
<line x1="604.1" y1="254.1" x2="665.2" y2="232" stroke="#000" stroke-width="1.2"/>
<circle cx="597.3" cy="254.7" r="2.7" fill="#000"/>
<circle cx="597.9" cy="244.8" r="2.7" fill="#000"/>
<circle cx="602.1" cy="254.1" r="2.7" fill="#000"/>
<circle cx="604.1" cy="255.2" r="2.7" fill="#000"/>
<circle cx="606.9" cy="257.5" r="2.7" fill="#000"/>
<circle cx="615.4" cy="254.1" r="2.7" fill="#000"/>
<circle cx="618.3" cy="250.4" r="2.7" fill="#000"/>
<circle cx="630.4" cy="248.2" r="2.7" fill="#000"/>
<circle cx="635.5" cy="251.8" r="2.7" fill="#000"/>
<circle cx="605.8" cy="256.1" r="2.7" fill="#000"/>
<path d="M601.4 236.3L604.1 231.1L606.9 236.3Z" fill="#e8392a"/>
<path d="M607.9 253.3L610.6 248.1L613.4 253.3Z" fill="#e8392a"/>
<path d="M619.2 231.3L621.9 226.0L624.7 231.3Z" fill="#e8392a"/>
<path d="M620.0 255.0L622.8 249.8L625.5 255.0Z" fill="#e8392a"/>
<path d="M630.5 249.6L633.3 244.4L636.0 249.6Z" fill="#e8392a"/>
<path d="M631.9 260.1L634.7 254.9L637.4 260.1Z" fill="#e8392a"/>
<path d="M643.2 253.9L646.0 248.7L648.7 253.9Z" fill="#e8392a"/>
<path d="M644.6 255.6L647.4 250.4L650.1 255.6Z" fill="#e8392a"/>
<path d="M650.3 241.4L653.1 236.2L655.8 241.4Z" fill="#e8392a"/>
<path d="M650.6 238.9L653.3 233.7L656.1 238.9Z" fill="#e8392a"/>
<path d="M654.5 220.5L657.3 215.3L660.0 220.5Z" fill="#e8392a"/>
<path d="M661.6 209.5L664.4 204.2L667.1 209.5Z" fill="#e8392a"/>
<line x1="590.8" y1="201.0" x2="590.8" y2="260.15" stroke="#000" stroke-width="1.5"/>
<line x1="590.05" y1="259.4" x2="672" y2="259.4" stroke="#000" stroke-width="1.5"/>
<line x1="585.8" y1="259.4" x2="590.8" y2="259.4" stroke="#000" stroke-width="1.5"/>
<text x="583.8" y="262.7" font-size="13.0" text-anchor="end">0</text>
<line x1="585.8" y1="247.81999999999996" x2="590.8" y2="247.81999999999996" stroke="#000" stroke-width="1.5"/>
<text x="583.8" y="251.11999999999998" font-size="13.0" text-anchor="end">2</text>
<line x1="585.8" y1="236.23999999999998" x2="590.8" y2="236.23999999999998" stroke="#000" stroke-width="1.5"/>
<text x="583.8" y="239.54" font-size="13.0" text-anchor="end">4</text>
<line x1="585.8" y1="224.65999999999997" x2="590.8" y2="224.65999999999997" stroke="#000" stroke-width="1.5"/>
<text x="583.8" y="227.95999999999998" font-size="13.0" text-anchor="end">6</text>
<line x1="585.8" y1="213.07999999999998" x2="590.8" y2="213.07999999999998" stroke="#000" stroke-width="1.5"/>
<text x="583.8" y="216.38" font-size="13.0" text-anchor="end">8</text>
<line x1="585.8" y1="201.49999999999997" x2="590.8" y2="201.49999999999997" stroke="#000" stroke-width="1.5"/>
<text x="583.8" y="204.79999999999998" font-size="13.0" text-anchor="end">10</text>
<line x1="590.8" y1="259.4" x2="590.8" y2="264.4" stroke="#000" stroke-width="1.5"/>
<text x="590.8" y="276.9" font-size="13.0" text-anchor="middle">0</text>
<line x1="606.9" y1="259.4" x2="606.9" y2="264.4" stroke="#000" stroke-width="1.5"/>
<text x="606.9" y="276.9" font-size="13.0" text-anchor="middle">2</text>
<line x1="623.0" y1="259.4" x2="623.0" y2="264.4" stroke="#000" stroke-width="1.5"/>
<text x="623.0" y="276.9" font-size="13.0" text-anchor="middle">4</text>
<line x1="639.0999999999999" y1="259.4" x2="639.0999999999999" y2="264.4" stroke="#000" stroke-width="1.5"/>
<text x="639.0999999999999" y="276.9" font-size="13.0" text-anchor="middle">6</text>
<line x1="655.1999999999999" y1="259.4" x2="655.1999999999999" y2="264.4" stroke="#000" stroke-width="1.5"/>
<text x="655.1999999999999" y="276.9" font-size="13.0" text-anchor="middle">8</text>
<line x1="671.3" y1="259.4" x2="671.3" y2="264.4" stroke="#000" stroke-width="1.5"/>
<text x="671.3" y="276.9" font-size="13.0" text-anchor="middle">10</text>
<text x="549.8" y="291.4" font-size="12.2">Plasma ET-1 level (pg/ml)</text>
<text x="3.7" y="313.4" font-size="13" font-weight="bold">i</text>
<text x="89.9" y="314.4" font-size="12.5">HUman small arteries</text>
<text x="85.8" y="332.8" font-size="12.4">Healthy</text>
<text x="156.2" y="332.8" font-size="12.4">Obesity&amp;T2DM</text>
<line x1="65.4" y1="340.2" x2="148" y2="340.2" stroke="#222" stroke-width="1.2"/>
<line x1="158.6" y1="340.6" x2="241.2" y2="340.6" stroke="#222" stroke-width="1.2"/>
<rect x="59.3" y="345" width="189.3" height="20.80000000000001" fill="#f0f0f0" stroke="#2c2c2c" stroke-width="1.4"/>
<rect x="61.2" y="354.5" width="12.4" height="3.9" rx="2.2" fill="rgb(108,108,108)" filter="url(#bl)"/>
<rect x="76.5" y="354.2" width="12.4" height="4.4" rx="2.2" fill="rgb(31,31,31)" filter="url(#bl)"/>
<rect x="91.9" y="354.6" width="12.4" height="3.6" rx="2.2" fill="rgb(151,151,151)" filter="url(#bl)"/>
<rect x="107.2" y="354.6" width="12.4" height="3.6" rx="2.2" fill="rgb(151,151,151)" filter="url(#bl)"/>
<rect x="122.6" y="354.7" width="12.4" height="3.5" rx="2.2" fill="rgb(162,162,162)" filter="url(#bl)"/>
<rect x="138.0" y="354.4" width="12.4" height="4.0" rx="2.2" fill="rgb(97,97,97)" filter="url(#bl)"/>
<rect x="153.3" y="354.2" width="12.4" height="4.4" rx="2.2" fill="rgb(42,42,42)" filter="url(#bl)"/>
<rect x="168.7" y="354.5" width="12.4" height="3.7" rx="2.2" fill="rgb(129,129,129)" filter="url(#bl)"/>
<rect x="184.0" y="354.2" width="12.4" height="4.4" rx="2.2" fill="rgb(31,31,31)" filter="url(#bl)"/>
<rect x="199.4" y="354.5" width="12.4" height="3.7" rx="2.2" fill="rgb(129,129,129)" filter="url(#bl)"/>
<rect x="214.7" y="354.4" width="12.4" height="4.0" rx="2.2" fill="rgb(86,86,86)" filter="url(#bl)"/>
<rect x="230.1" y="354.3" width="12.4" height="4.1" rx="2.2" fill="rgb(75,75,75)" filter="url(#bl)"/>
<text x="53.6" y="358.6" font-size="12.8" text-anchor="end">FUNDC1</text>
<line x1="248.6" y1="360.8" x2="251.1" y2="360.8" stroke="#000" stroke-width="1.0"/>
<text x="250.8" y="364.40000000000003" font-size="11">15</text>
<rect x="59.3" y="370.3" width="189.3" height="20.899999999999977" fill="#f0f0f0" stroke="#2c2c2c" stroke-width="1.4"/>
<rect x="62.7" y="379.1" width="12.4" height="4.2" rx="2.2" fill="rgb(64,64,64)" filter="url(#bl)"/>
<rect x="78.0" y="379.0" width="12.4" height="4.4" rx="2.2" fill="rgb(31,31,31)" filter="url(#bl)"/>
<rect x="93.4" y="379.4" width="12.4" height="3.6" rx="2.2" fill="rgb(140,140,140)" filter="url(#bl)"/>
<rect x="108.8" y="379.1" width="12.4" height="4.3" rx="2.2" fill="rgb(53,53,53)" filter="url(#bl)"/>
<rect x="124.1" y="379.3" width="12.4" height="3.9" rx="2.2" fill="rgb(108,108,108)" filter="url(#bl)"/>
<rect x="139.5" y="379.3" width="12.4" height="3.7" rx="2.2" fill="rgb(129,129,129)" filter="url(#bl)"/>
<rect x="154.8" y="379.0" width="12.4" height="4.4" rx="2.2" fill="rgb(31,31,31)" filter="url(#bl)"/>
<rect x="170.2" y="379.1" width="12.4" height="4.1" rx="2.2" fill="rgb(75,75,75)" filter="url(#bl)"/>
<rect x="185.5" y="379.1" width="12.4" height="4.2" rx="2.2" fill="rgb(64,64,64)" filter="url(#bl)"/>
<rect x="200.9" y="379.0" width="12.4" height="4.4" rx="2.2" fill="rgb(42,42,42)" filter="url(#bl)"/>
<rect x="216.2" y="379.3" width="12.4" height="3.7" rx="2.2" fill="rgb(129,129,129)" filter="url(#bl)"/>
<rect x="231.6" y="379.0" width="12.4" height="4.4" rx="2.2" fill="rgb(42,42,42)" filter="url(#bl)"/>
<text x="53.6" y="386" font-size="13.2" text-anchor="end">ET-1</text>
<line x1="248.6" y1="385.2" x2="251.1" y2="385.2" stroke="#000" stroke-width="1.0"/>
<text x="250.8" y="388.8" font-size="11">20</text>
<rect x="59.3" y="394.5" width="189.3" height="16.399999999999977" fill="#f0f0f0" stroke="#2c2c2c" stroke-width="1.4"/>
<rect x="62.2" y="401.3" width="12.4" height="3.4" rx="2.2" fill="rgb(173,173,173)" filter="url(#bl)"/>
<rect x="77.5" y="401.1" width="12.4" height="3.8" rx="2.2" fill="rgb(119,119,119)" filter="url(#bl)"/>
<rect x="92.9" y="401.2" width="12.4" height="3.6" rx="2.2" fill="rgb(140,140,140)" filter="url(#bl)"/>
<rect x="108.2" y="400.9" width="12.4" height="4.2" rx="2.2" fill="rgb(64,64,64)" filter="url(#bl)"/>
<rect x="123.6" y="401.0" width="12.4" height="4.0" rx="2.2" fill="rgb(97,97,97)" filter="url(#bl)"/>
<rect x="139.0" y="401.2" width="12.4" height="3.6" rx="2.2" fill="rgb(140,140,140)" filter="url(#bl)"/>
<rect x="154.3" y="400.8" width="12.4" height="4.4" rx="2.2" fill="rgb(42,42,42)" filter="url(#bl)"/>
<rect x="169.7" y="401.1" width="12.4" height="3.9" rx="2.2" fill="rgb(108,108,108)" filter="url(#bl)"/>
<rect x="185.0" y="400.8" width="12.4" height="4.4" rx="2.2" fill="rgb(42,42,42)" filter="url(#bl)"/>
<rect x="200.4" y="401.0" width="12.4" height="4.0" rx="2.2" fill="rgb(97,97,97)" filter="url(#bl)"/>
<rect x="215.7" y="400.9" width="12.4" height="4.1" rx="2.2" fill="rgb(75,75,75)" filter="url(#bl)"/>
<rect x="231.1" y="401.0" width="12.4" height="4.0" rx="2.2" fill="rgb(86,86,86)" filter="url(#bl)"/>
<text x="56.2" y="409" font-size="13.4" text-anchor="end">GATA2</text>
<line x1="248.6" y1="404.4" x2="251.1" y2="404.4" stroke="#000" stroke-width="1.0"/>
<text x="250.8" y="408.0" font-size="11">50</text>
<rect x="59.3" y="415.7" width="189.3" height="22.0" fill="#f0f0f0" stroke="#2c2c2c" stroke-width="1.4"/>
<rect x="63.2" y="425.7" width="12.4" height="4.5" rx="2.2" fill="rgb(20,20,20)" filter="url(#bl)"/>
<rect x="78.5" y="425.8" width="12.4" height="4.4" rx="2.2" fill="rgb(31,31,31)" filter="url(#bl)"/>
<rect x="93.9" y="425.9" width="12.4" height="4.3" rx="2.2" fill="rgb(53,53,53)" filter="url(#bl)"/>
<rect x="109.2" y="425.7" width="12.4" height="4.5" rx="2.2" fill="rgb(20,20,20)" filter="url(#bl)"/>
<rect x="124.6" y="426.0" width="12.4" height="4.0" rx="2.2" fill="rgb(86,86,86)" filter="url(#bl)"/>
<rect x="140.0" y="425.7" width="12.4" height="4.5" rx="2.2" fill="rgb(20,20,20)" filter="url(#bl)"/>
<rect x="155.3" y="425.9" width="12.4" height="4.3" rx="2.2" fill="rgb(53,53,53)" filter="url(#bl)"/>
<rect x="170.7" y="425.9" width="12.4" height="4.2" rx="2.2" fill="rgb(64,64,64)" filter="url(#bl)"/>
<rect x="186.0" y="425.9" width="12.4" height="4.3" rx="2.2" fill="rgb(53,53,53)" filter="url(#bl)"/>
<rect x="201.4" y="425.8" width="12.4" height="4.4" rx="2.2" fill="rgb(42,42,42)" filter="url(#bl)"/>
<rect x="216.7" y="425.8" width="12.4" height="4.4" rx="2.2" fill="rgb(31,31,31)" filter="url(#bl)"/>
<rect x="232.1" y="425.7" width="12.4" height="4.5" rx="2.2" fill="rgb(20,20,20)" filter="url(#bl)"/>
<text x="53.4" y="431.5" font-size="13.0" text-anchor="end">β-actin</text>
<line x1="248.6" y1="431.2" x2="251.1" y2="431.2" stroke="#000" stroke-width="1.0"/>
<text x="250.8" y="434.8" font-size="11">37</text>
<text x="1.7" y="454" font-size="13" font-weight="bold">j</text>
<text transform="translate(46.8,481) rotate(-90)" font-size="12.5" text-anchor="middle">Relative</text>
<text transform="translate(59.6,480.5) rotate(-90)" font-size="12.15" text-anchor="middle">protein level</text>
<text transform="translate(73.8,480.2) rotate(-90)" font-size="12.0" text-anchor="middle">(fold change)</text>
<rect x="98.4" y="497.5" width="10.4" height="14.8" fill="#b4b4b4" stroke="#000" stroke-width="1.5"/>
<line x1="103.6" y1="497.45000000000005" x2="103.6" y2="492.2875" stroke="#000" stroke-width="1.3"/>
<line x1="100.1" y1="492.2875" x2="107.1" y2="492.2875" stroke="#000" stroke-width="1.3"/>
<circle cx="102.1" cy="489.3" r="2.8" fill="#000"/>
<circle cx="99.6" cy="496.7" r="2.8" fill="#000"/>
<circle cx="107.1" cy="496.7" r="2.8" fill="#000"/>
<circle cx="100.6" cy="500.4" r="2.8" fill="#000"/>
<circle cx="106.1" cy="501.1" r="2.8" fill="#000"/>
<circle cx="103.6" cy="498.2" r="2.8" fill="#000"/>
<circle cx="108.1" cy="499.7" r="2.8" fill="#000"/>
<circle cx="102.6" cy="503.4" r="2.8" fill="#000"/>
<circle cx="104.6" cy="504.8" r="2.8" fill="#000"/>
<rect x="115.2" y="483.4" width="11.6" height="28.8" fill="none" stroke="#e8392a" stroke-width="1.5"/>
<line x1="121.0" y1="483.43750000000006" x2="121.0" y2="474.58750000000003" stroke="#e8392a" stroke-width="1.3"/>
<line x1="117.5" y1="474.58750000000003" x2="124.5" y2="474.58750000000003" stroke="#e8392a" stroke-width="1.3"/>
<path d="M118.2 475.0L121.0 469.7L123.8 475.0Z" fill="#e8392a"/>
<path d="M115.7 484.6L118.5 479.3L121.3 484.6Z" fill="#e8392a"/>
<path d="M121.2 487.6L124.0 482.3L126.8 487.6Z" fill="#e8392a"/>
<path d="M118.2 490.5L121.0 485.2L123.8 490.5Z" fill="#e8392a"/>
<path d="M115.2 492.7L118.0 487.4L120.8 492.7Z" fill="#e8392a"/>
<path d="M120.7 493.5L123.5 488.2L126.3 493.5Z" fill="#e8392a"/>
<path d="M118.2 497.2L121.0 491.8L123.8 497.2Z" fill="#e8392a"/>
<path d="M103.2 479.5V462.3H121.5V465.3" fill="none" stroke="#000" stroke-width="0.9"/>
<text x="112.1" y="462.1" font-size="12.3" font-weight="bold" text-anchor="middle" style="font-family:'Liberation Sans',sans-serif">**</text>
<text x="116" y="529" font-size="12.4" text-anchor="middle">FUNDC1</text>
<rect x="151.3" y="497.5" width="10.7" height="14.8" fill="#fff" stroke="#000" stroke-width="1.5"/>
<line x1="156.65" y1="497.45000000000005" x2="156.65" y2="494.50000000000006" stroke="#000" stroke-width="1.3"/>
<line x1="153.15" y1="494.50000000000006" x2="160.15" y2="494.50000000000006" stroke="#000" stroke-width="1.3"/>
<circle cx="155.2" cy="489.3" r="2.8" fill="#000"/>
<circle cx="152.7" cy="496.7" r="2.8" fill="#000"/>
<circle cx="160.2" cy="496.7" r="2.8" fill="#000"/>
<circle cx="153.7" cy="500.4" r="2.8" fill="#000"/>
<circle cx="159.2" cy="501.1" r="2.8" fill="#000"/>
<circle cx="156.7" cy="498.2" r="2.8" fill="#000"/>
<circle cx="161.2" cy="499.7" r="2.8" fill="#000"/>
<circle cx="155.7" cy="503.4" r="2.8" fill="#000"/>
<circle cx="157.7" cy="504.8" r="2.8" fill="#000"/>
<rect x="168.6" y="489.3" width="11.5" height="22.9" fill="none" stroke="#e8392a" stroke-width="1.5"/>
<line x1="174.35" y1="489.33750000000003" x2="174.35" y2="484.9125" stroke="#e8392a" stroke-width="1.3"/>
<line x1="170.85" y1="484.9125" x2="177.85" y2="484.9125" stroke="#e8392a" stroke-width="1.3"/>
<path d="M171.5 483.9L174.3 478.6L177.2 483.9Z" fill="#e8392a"/>
<path d="M169.0 490.5L171.8 485.2L174.7 490.5Z" fill="#e8392a"/>
<path d="M174.5 493.5L177.3 488.2L180.2 493.5Z" fill="#e8392a"/>
<path d="M171.5 496.4L174.3 491.1L177.2 496.4Z" fill="#e8392a"/>
<path d="M168.5 498.6L171.3 493.3L174.2 498.6Z" fill="#e8392a"/>
<path d="M174.0 499.4L176.8 494.1L179.7 499.4Z" fill="#e8392a"/>
<path d="M171.5 503.1L174.3 497.7L177.2 503.1Z" fill="#e8392a"/>
<path d="M156.6 483.5V471.4H174.5V474.6" fill="none" stroke="#000" stroke-width="0.9"/>
<text x="165.4" y="471.1" font-size="12.3" font-weight="bold" text-anchor="middle" style="font-family:'Liberation Sans',sans-serif">*</text>
<text x="165.5" y="529" font-size="12.4" text-anchor="middle">ET-1</text>
<rect x="204.8" y="497.5" width="11.0" height="14.8" fill="#fff" stroke="#000" stroke-width="1.5"/>
<line x1="210.3" y1="497.45000000000005" x2="210.3" y2="493.76250000000005" stroke="#000" stroke-width="1.3"/>
<line x1="206.8" y1="493.76250000000005" x2="213.8" y2="493.76250000000005" stroke="#000" stroke-width="1.3"/>
<circle cx="208.8" cy="489.3" r="2.8" fill="#000"/>
<circle cx="206.3" cy="496.7" r="2.8" fill="#000"/>
<circle cx="213.8" cy="496.7" r="2.8" fill="#000"/>
<circle cx="207.3" cy="500.4" r="2.8" fill="#000"/>
<circle cx="212.8" cy="501.1" r="2.8" fill="#000"/>
<circle cx="210.3" cy="498.2" r="2.8" fill="#000"/>
<circle cx="214.8" cy="499.7" r="2.8" fill="#000"/>
<circle cx="209.3" cy="503.4" r="2.8" fill="#000"/>
<circle cx="211.3" cy="504.8" r="2.8" fill="#000"/>
<rect x="221.8" y="487.1" width="11.0" height="25.1" fill="none" stroke="#e8392a" stroke-width="1.5"/>
<line x1="227.3" y1="487.12500000000006" x2="227.3" y2="482.70000000000005" stroke="#e8392a" stroke-width="1.3"/>
<line x1="223.8" y1="482.70000000000005" x2="230.8" y2="482.70000000000005" stroke="#e8392a" stroke-width="1.3"/>
<path d="M224.5 481.7L227.3 476.4L230.1 481.7Z" fill="#e8392a"/>
<path d="M222.0 488.3L224.8 483.0L227.6 488.3Z" fill="#e8392a"/>
<path d="M227.5 491.3L230.3 485.9L233.1 491.3Z" fill="#e8392a"/>
<path d="M224.5 494.2L227.3 488.9L230.1 494.2Z" fill="#e8392a"/>
<path d="M221.5 496.4L224.3 491.1L227.1 496.4Z" fill="#e8392a"/>
<path d="M227.0 497.2L229.8 491.8L232.6 497.2Z" fill="#e8392a"/>
<path d="M224.5 500.8L227.3 495.5L230.1 500.8Z" fill="#e8392a"/>
<path d="M210.4 483.5V467.5H227.6V471.5" fill="none" stroke="#000" stroke-width="0.9"/>
<text x="218.8" y="467.4" font-size="12.3" font-weight="bold" text-anchor="middle" style="font-family:'Liberation Sans',sans-serif">*</text>
<text x="219" y="529" font-size="12.4" text-anchor="middle">GATA2</text>
<line x1="94.2" y1="452.7" x2="94.2" y2="513.2" stroke="#000" stroke-width="2"/>
<line x1="93.2" y1="512.2" x2="236.6" y2="512.2" stroke="#000" stroke-width="2"/>
<line x1="90.3" y1="512.2" x2="94.2" y2="512.2" stroke="#000" stroke-width="1.6"/>
<text x="87.6" y="516.0" font-size="12.6" text-anchor="end">0</text>
<line x1="90.3" y1="497.45000000000005" x2="94.2" y2="497.45000000000005" stroke="#000" stroke-width="1.6"/>
<text x="87.6" y="501.25000000000006" font-size="12.6" text-anchor="end">1</text>
<line x1="90.3" y1="482.70000000000005" x2="94.2" y2="482.70000000000005" stroke="#000" stroke-width="1.6"/>
<text x="87.6" y="486.50000000000006" font-size="12.6" text-anchor="end">2</text>
<line x1="90.3" y1="467.95000000000005" x2="94.2" y2="467.95000000000005" stroke="#000" stroke-width="1.6"/>
<text x="87.6" y="471.75000000000006" font-size="12.6" text-anchor="end">3</text>
<line x1="90.3" y1="453.20000000000005" x2="94.2" y2="453.20000000000005" stroke="#000" stroke-width="1.6"/>
<text x="87.6" y="457.00000000000006" font-size="12.6" text-anchor="end">4</text>
<line x1="103.2" y1="512.2" x2="103.2" y2="515.7" stroke="#000" stroke-width="1.6"/>
<line x1="121.2" y1="512.2" x2="121.2" y2="515.7" stroke="#000" stroke-width="1.6"/>
<line x1="139.3" y1="512.2" x2="139.3" y2="515.7" stroke="#000" stroke-width="1.6"/>
<line x1="156.6" y1="512.2" x2="156.6" y2="515.7" stroke="#000" stroke-width="1.6"/>
<line x1="174.5" y1="512.2" x2="174.5" y2="515.7" stroke="#000" stroke-width="1.6"/>
<line x1="192.5" y1="512.2" x2="192.5" y2="515.7" stroke="#000" stroke-width="1.6"/>
<line x1="210.5" y1="512.2" x2="210.5" y2="515.7" stroke="#000" stroke-width="1.6"/>
<line x1="228.5" y1="512.2" x2="228.5" y2="515.7" stroke="#000" stroke-width="1.6"/>
<text x="279.2" y="313" font-size="13" font-weight="bold">k</text>
<text x="360" y="314.3" font-size="12.5">Human femoral arteries</text>
<text x="316" y="332.7" font-size="12.5">Healthy</text>
<text x="372.9" y="332.7" font-size="12.5">Obesity&amp;T2DM</text>
<text x="461.7" y="332.7" font-size="12.5">Isotype control</text>
<text transform="translate(289.9,391.4) rotate(-90)" font-size="13" text-anchor="middle">anti-FUNDC1</text>
<text transform="translate(289.9,481.2) rotate(-90)" font-size="13.6" text-anchor="middle">anti-ET-1</text>
<rect x="297.4" y="339.6" width="78.8" height="58.9" fill="#ededed"/>
<clipPath id="c1"><path d="M297.4 398.5 L297.4 356.0 L297.8 356.0 L314.0 356.0 L322.0 356.5 L329.5 357.8 L336.7 360.7 L343.9 363.7 L347.5 364.9 L352.3 363.1 L358.2 360.7 L365.4 358.9 L375.6 357.8 L376.2 357.8 L376.2 398.5Z"/></clipPath>
<path d="M297.4 398.5 L297.4 356.0 L297.8 356.0 L314.0 356.0 L322.0 356.5 L329.5 357.8 L336.7 360.7 L343.9 363.7 L347.5 364.9 L352.3 363.1 L358.2 360.7 L365.4 358.9 L375.6 357.8 L376.2 357.8 L376.2 398.5Z" fill="#d8cad1"/>
<rect x="297.4" y="339.6" width="78.8" height="58.9" filter="url(#pk1)" clip-path="url(#c1)"/>
<rect x="297.4" y="339.6" width="78.8" height="58.9" filter="url(#wh1)" clip-path="url(#c1)"/>
<path d="M297.8 356.0 L297.8 356.0 L314.0 356.0 L322.0 356.5 L329.5 357.8 L336.7 360.7 L343.9 363.7 L347.5 364.9 L352.3 363.1 L358.2 360.7 L365.4 358.9 L375.6 357.8" fill="none" stroke="#b898b0" stroke-width="5" stroke-linejoin="round" clip-path="url(#c1)" opacity="0.45" filter="url(#sb)"/>
<ellipse cx="345" cy="369.5" rx="2.2" ry="1.3" fill="#8a6aa0" opacity="0.6" filter="url(#sb)"/>
<ellipse cx="318" cy="365" rx="1.5" ry="1" fill="#9a7aa8" opacity="0.5" filter="url(#sb)"/>
<ellipse cx="367" cy="362" rx="1.4" ry="1" fill="#9a7aa8" opacity="0.5" filter="url(#sb)"/>
<rect x="299.4" y="355.4" width="14.6" height="8.0" rx="0.8" fill="none" stroke="#1a1a1a" stroke-width="1.4" stroke-dasharray="2.8 1.5"/>
<line x1="302.6" y1="395.8" x2="314" y2="395.8" stroke="#151515" stroke-width="1.7"/>
<rect x="297.4" y="339.6" width="78.8" height="58.9" fill="none" stroke="#333" stroke-width="1.4"/>
<rect x="378.5" y="339.6" width="78.1" height="58.9" fill="#ededed"/>
<clipPath id="c2"><path d="M378.5 398.5 L378.5 341.6 L378.8 341.6 L384.2 344.0 L386.0 350.0 L387.8 354.8 L385.4 360.1 L389.0 364.9 L392.6 363.7 L401.0 362.5 L414.1 361.3 L427.3 361.9 L434.5 364.3 L441.6 367.9 L448.8 364.9 L456.0 360.1 L456.6 360.1 L456.6 398.5Z"/></clipPath>
<path d="M378.5 398.5 L378.5 341.6 L378.8 341.6 L384.2 344.0 L386.0 350.0 L387.8 354.8 L385.4 360.1 L389.0 364.9 L392.6 363.7 L401.0 362.5 L414.1 361.3 L427.3 361.9 L434.5 364.3 L441.6 367.9 L448.8 364.9 L456.0 360.1 L456.6 360.1 L456.6 398.5Z" fill="#e2d6d5"/>
<rect x="378.5" y="339.6" width="78.1" height="58.9" filter="url(#br1)" clip-path="url(#c2)"/>
<rect x="378.5" y="339.6" width="78.1" height="58.9" filter="url(#wh1)" clip-path="url(#c2)"/>
<path d="M378.8 341.6 L378.8 341.6 L384.2 344.0 L386.0 350.0 L387.8 354.8 L385.4 360.1 L389.0 364.9 L392.6 363.7 L401.0 362.5 L414.1 361.3 L427.3 361.9 L434.5 364.3 L441.6 367.9 L448.8 364.9 L456.0 360.1" fill="none" stroke="#cfa898" stroke-width="4" stroke-linejoin="round" clip-path="url(#c2)" opacity="0.7" filter="url(#sb)"/>
<ellipse cx="427" cy="385" rx="1.6" ry="1.8" fill="#b06a40" opacity="0.8" filter="url(#sb)"/>
<ellipse cx="442" cy="373" rx="1.5" ry="3" fill="#c89070" opacity="0.5" filter="url(#sb)"/>
<path d="M378.8 341.6 L378.8 341.6 L384.2 344.0 L386.0 350.0 L387.8 354.8 L385.4 360.1 L389.0 364.9 L392.6 363.7 L401.0 362.5 L414.1 361.3 L427.3 361.9 L434.5 364.3 L441.6 367.9 L448.8 364.9 L456.0 360.1" fill="none" stroke="#c8a090" stroke-width="1.0" stroke-linejoin="round" clip-path="url(#c2)" filter="url(#sb)"/>
<rect x="399.5" y="359.5" width="14.6" height="7.0" rx="0.8" fill="none" stroke="#1a1a1a" stroke-width="1.4" stroke-dasharray="2.8 1.5"/>
<line x1="384.2" y1="395.8" x2="395.6" y2="395.8" stroke="#151515" stroke-width="1.7"/>
<rect x="378.5" y="339.6" width="78.1" height="58.9" fill="none" stroke="#333" stroke-width="1.4"/>
<rect x="458.6" y="339.6" width="78.0" height="58.9" fill="#ededed"/>
<clipPath id="c3"><path d="M458.6 398.5 L458.6 352.1 L458.8 352.1 L469.0 351.8 L473.8 353.0 L477.3 355.4 L480.9 358.9 L484.5 362.5 L490.5 361.3 L497.7 361.9 L504.9 361.3 L508.5 360.7 L513.3 358.9 L516.9 357.8 L524.0 355.4 L531.2 353.0 L536.0 350.6 L536.6 350.6 L536.6 398.5Z"/></clipPath>
<path d="M458.6 398.5 L458.6 352.1 L458.8 352.1 L469.0 351.8 L473.8 353.0 L477.3 355.4 L480.9 358.9 L484.5 362.5 L490.5 361.3 L497.7 361.9 L504.9 361.3 L508.5 360.7 L513.3 358.9 L516.9 357.8 L524.0 355.4 L531.2 353.0 L536.0 350.6 L536.6 350.6 L536.6 398.5Z" fill="#d9c9cf"/>
<rect x="458.6" y="339.6" width="78.0" height="58.9" filter="url(#pk1)" clip-path="url(#c3)"/>
<rect x="458.6" y="339.6" width="78.0" height="58.9" filter="url(#wh1)" clip-path="url(#c3)"/>
<rect x="517.1" y="351.4" width="14.7" height="6.9" rx="0.8" fill="none" stroke="#1a1a1a" stroke-width="1.4" stroke-dasharray="2.8 1.5"/>
<line x1="463" y1="395.8" x2="473.8" y2="395.8" stroke="#151515" stroke-width="1.7"/>
<rect x="458.6" y="339.6" width="78.0" height="58.9" fill="none" stroke="#333" stroke-width="1.4"/>
<rect x="297.4" y="402.5" width="78.8" height="28.5" fill="#ededef"/>
<clipPath id="c4"><path d="M297.4 431.0 L297.4 414.4 L297.8 414.4 L314.0 416.2 L327.1 418.0 L335.5 419.2 L346.3 418.0 L355.9 418.0 L367.8 416.8 L375.0 416.8 L376.2 416.8 L376.2 431.0Z"/></clipPath>
<path d="M297.4 431.0 L297.4 414.4 L297.8 414.4 L314.0 416.2 L327.1 418.0 L335.5 419.2 L346.3 418.0 L355.9 418.0 L367.8 416.8 L375.0 416.8 L376.2 416.8 L376.2 431.0Z" fill="#dfd0d8"/>
<rect x="297.4" y="402.5" width="78.8" height="28.5" filter="url(#pu2)" clip-path="url(#c4)"/>
<rect x="297.4" y="402.5" width="78.8" height="28.5" filter="url(#wh2)" clip-path="url(#c4)"/>
<ellipse cx="306.8" cy="422.7" rx="2.4" ry="1.4" fill="#7a5a90" opacity="0.75" filter="url(#sb)"/>
<ellipse cx="315.2" cy="418.5" rx="1.8" ry="1.2" fill="#7a5a90" opacity="0.7" filter="url(#sb)"/>
<ellipse cx="319.3" cy="417.6" rx="1.5" ry="1.3" fill="#7a5a90" opacity="0.7" filter="url(#sb)"/>
<ellipse cx="327.1" cy="419.4" rx="1.6" ry="1.3" fill="#7a4a60" opacity="0.8" filter="url(#sb)"/>
<ellipse cx="337.9" cy="421.5" rx="2.2" ry="1.2" fill="#7a5a90" opacity="0.65" filter="url(#sb)"/>
<ellipse cx="345.1" cy="428.1" rx="1.4" ry="2" fill="#7a5a90" opacity="0.7" filter="url(#sb)"/>
<ellipse cx="348.7" cy="425.1" rx="1.3" ry="1.2" fill="#7a5a90" opacity="0.6" filter="url(#sb)"/>
<ellipse cx="361.8" cy="420" rx="1.8" ry="1.2" fill="#7a5a90" opacity="0.6" filter="url(#sb)"/>
<ellipse cx="370.2" cy="420.9" rx="1.5" ry="1.5" fill="#7a5a90" opacity="0.8" filter="url(#sb)"/>
<path d="M320.0 406.0L323.4 406.0L321.7 413.8Z" fill="#3f7fb2" transform="rotate(0 321.7 409.9)"/>
<path d="M336.4 407.2L339.8 407.2L338.1 415.6Z" fill="#3f7fb2" transform="rotate(0 338.1 411.4)"/>
<path d="M350.6 411.9L354.0 411.9L352.3 417.4Z" fill="#3f7fb2" transform="rotate(0 352.3 414.65)"/>
<rect x="297.4" y="402.5" width="78.8" height="28.5" fill="none" stroke="#333" stroke-width="1.4"/>
<rect x="378.5" y="402.5" width="78.1" height="28.5" fill="#ededef"/>
<clipPath id="c5"><path d="M378.5 431.0 L378.5 416.2 L378.8 416.2 L386.6 415.0 L395.0 416.8 L406.9 418.0 L418.9 419.8 L428.5 420.3 L436.9 416.8 L444.0 413.2 L451.2 409.6 L456.0 406.6 L456.6 406.6 L456.6 431.0Z"/></clipPath>
<path d="M378.5 431.0 L378.5 416.2 L378.8 416.2 L386.6 415.0 L395.0 416.8 L406.9 418.0 L418.9 419.8 L428.5 420.3 L436.9 416.8 L444.0 413.2 L451.2 409.6 L456.0 406.6 L456.6 406.6 L456.6 431.0Z" fill="#eadbd3"/>
<rect x="378.5" y="402.5" width="78.1" height="28.5" filter="url(#wh2)" clip-path="url(#c5)"/>
<path d="M378.8 416.2 L378.8 416.2 L386.6 415.0 L395.0 416.8 L406.9 418.0 L418.9 419.8 L428.5 420.3 L436.9 416.8 L444.0 413.2 L451.2 409.6 L456.0 406.6" fill="none" stroke="#d0a090" stroke-width="3" stroke-linejoin="round" clip-path="url(#c5)" opacity="0.7" filter="url(#sb)"/>
<ellipse cx="386" cy="423.3" rx="1.8" ry="1.3" fill="#7a5a90" opacity="0.6" filter="url(#sb)"/>
<ellipse cx="398.5" cy="421.5" rx="1.6" ry="1.2" fill="#7a5a90" opacity="0.6" filter="url(#sb)"/>
<ellipse cx="409.3" cy="425.1" rx="1.6" ry="1.2" fill="#8a6080" opacity="0.6" filter="url(#sb)"/>
<ellipse cx="416.5" cy="428.7" rx="1.6" ry="1.2" fill="#7a5a90" opacity="0.6" filter="url(#sb)"/>
<ellipse cx="436.9" cy="416.8" rx="1.6" ry="1.4" fill="#7a4a60" opacity="0.7" filter="url(#sb)"/>
<ellipse cx="450" cy="419.5" rx="1.2" ry="2.2" fill="#7a5a90" opacity="0.6" filter="url(#sb)"/>
<path d="M378.8 416.2 L378.8 416.2 L386.6 415.0 L395.0 416.8 L406.9 418.0 L418.9 419.8 L428.5 420.3 L436.9 416.8 L444.0 413.2 L451.2 409.6 L456.0 406.6" fill="none" stroke="#b27058" stroke-width="1.2" stroke-linejoin="round" clip-path="url(#c5)" filter="url(#sb)"/>
<path d="M402.8 408.0L406.2 408.0L404.5 416.2Z" fill="#3f7fb2" transform="rotate(0 404.5 412.1)"/>
<path d="M417.8 410.0L421.2 410.0L419.5 418.0Z" fill="#3f7fb2" transform="rotate(0 419.5 414.0)"/>
<path d="M434.0 407.0L437.4 407.0L435.7 414.0Z" fill="#3f7fb2" transform="rotate(0 435.7 410.5)"/>
<rect x="378.5" y="402.5" width="78.1" height="28.5" fill="none" stroke="#333" stroke-width="1.4"/>
<rect x="458.6" y="402.5" width="78.0" height="28.5" fill="#ededef"/>
<clipPath id="c6"><path d="M458.6 431.0 L458.6 421.0 L459.4 421.0 L475.0 418.0 L488.1 419.2 L498.9 419.8 L507.3 421.5 L512.0 417.4 L513.3 415.6 L524.0 413.2 L531.2 411.4 L536.0 409.6 L536.6 409.6 L536.6 431.0Z"/></clipPath>
<path d="M458.6 431.0 L458.6 421.0 L459.4 421.0 L475.0 418.0 L488.1 419.2 L498.9 419.8 L507.3 421.5 L512.0 417.4 L513.3 415.6 L524.0 413.2 L531.2 411.4 L536.0 409.6 L536.6 409.6 L536.6 431.0Z" fill="#dccbd5"/>
<rect x="458.6" y="402.5" width="78.0" height="28.5" filter="url(#pu2)" clip-path="url(#c6)"/>
<rect x="458.6" y="402.5" width="78.0" height="28.5" filter="url(#wh2)" clip-path="url(#c6)"/>
<ellipse cx="464.2" cy="423.9" rx="1.8" ry="1.2" fill="#7a5a90" opacity="0.6" filter="url(#sb)"/>
<ellipse cx="480.9" cy="423.3" rx="1.6" ry="1.3" fill="#7a5a90" opacity="0.7" filter="url(#sb)"/>
<ellipse cx="499.5" cy="422.7" rx="1.6" ry="1.3" fill="#7a5a90" opacity="0.7" filter="url(#sb)"/>
<ellipse cx="504.9" cy="423.3" rx="1.3" ry="1.8" fill="#7a5a90" opacity="0.7" filter="url(#sb)"/>
<ellipse cx="513.3" cy="417.6" rx="1.6" ry="1.3" fill="#6a4a70" opacity="0.7" filter="url(#sb)"/>
<ellipse cx="519.2" cy="424.5" rx="1.4" ry="1.8" fill="#7a5a90" opacity="0.7" filter="url(#sb)"/>
<ellipse cx="527.6" cy="414.6" rx="2.2" ry="1.5" fill="#7a5a90" opacity="0.7" filter="url(#sb)"/>
<ellipse cx="532.4" cy="419.2" rx="1.3" ry="1.3" fill="#7a5a90" opacity="0.6" filter="url(#sb)"/>
<path d="M479.8 408.0L483.2 408.0L481.5 416.0Z" fill="#3f7fb2" transform="rotate(0 481.5 412.0)"/>
<path d="M497.8 410.0L501.2 410.0L499.5 418.0Z" fill="#3f7fb2" transform="rotate(0 499.5 414.0)"/>
<path d="M512.2 406.0L515.6 406.0L513.9 413.6Z" fill="#3f7fb2" transform="rotate(0 513.9 409.8)"/>
<rect x="458.6" y="402.5" width="78.0" height="28.5" fill="none" stroke="#333" stroke-width="1.4"/>
<rect x="297.4" y="435.8" width="78.8" height="58.7" fill="#ededed"/>
<clipPath id="c7"><path d="M297.4 494.5 L297.4 449.0 L297.8 449.0 L308.0 447.2 L319.9 446.0 L331.9 445.4 L340.3 446.0 L349.9 448.4 L358.2 452.0 L365.4 451.4 L375.0 452.0 L376.2 452.0 L376.2 494.5Z"/></clipPath>
<path d="M297.4 494.5 L297.4 449.0 L297.8 449.0 L308.0 447.2 L319.9 446.0 L331.9 445.4 L340.3 446.0 L349.9 448.4 L358.2 452.0 L365.4 451.4 L375.0 452.0 L376.2 452.0 L376.2 494.5Z" fill="#e3d4d3"/>
<rect x="297.4" y="435.8" width="78.8" height="58.7" filter="url(#br2)" clip-path="url(#c7)"/>
<rect x="297.4" y="435.8" width="78.8" height="58.7" filter="url(#wh1)" clip-path="url(#c7)"/>
<path d="M297.8 449.0 L297.8 449.0 L308.0 447.2 L319.9 446.0 L331.9 445.4 L340.3 446.0 L349.9 448.4 L358.2 452.0 L365.4 451.4 L375.0 452.0" fill="none" stroke="#c09080" stroke-width="1" stroke-linejoin="round" clip-path="url(#c7)" filter="url(#sb)"/>
<rect x="340" y="445.4" width="17.0" height="7.2" rx="0.8" fill="none" stroke="#1a1a1a" stroke-width="1.4" stroke-dasharray="2.8 1.5"/>
<line x1="301.4" y1="490.3" x2="312.8" y2="490.3" stroke="#151515" stroke-width="1.7"/>
<rect x="297.4" y="435.8" width="78.8" height="58.7" fill="none" stroke="#333" stroke-width="1.4"/>
<rect x="378.5" y="435.8" width="78.1" height="58.7" fill="#efefef"/>
<clipPath id="c8"><path d="M378.5 494.5 L378.5 443.6 L378.8 443.6 L383.0 445.4 L386.0 449.0 L388.4 452.0 L392.6 451.4 L399.7 453.8 L408.1 456.7 L417.7 459.1 L424.9 459.7 L429.7 457.9 L432.1 452.0 L436.9 446.0 L444.0 443.0 L451.2 442.4 L456.0 443.0 L456.6 443.0 L456.6 494.5Z"/></clipPath>
<path d="M378.5 494.5 L378.5 443.6 L378.8 443.6 L383.0 445.4 L386.0 449.0 L388.4 452.0 L392.6 451.4 L399.7 453.8 L408.1 456.7 L417.7 459.1 L424.9 459.7 L429.7 457.9 L432.1 452.0 L436.9 446.0 L444.0 443.0 L451.2 442.4 L456.0 443.0 L456.6 443.0 L456.6 494.5Z" fill="#e2d2ca"/>
<rect x="378.5" y="435.8" width="78.1" height="58.7" filter="url(#br2)" clip-path="url(#c8)"/>
<rect x="378.5" y="435.8" width="78.1" height="58.7" filter="url(#wh1)" clip-path="url(#c8)"/>
<path d="M378.8 443.6 L378.8 443.6 L383.0 445.4 L386.0 449.0 L388.4 452.0 L392.6 451.4 L399.7 453.8 L408.1 456.7 L417.7 459.1 L424.9 459.7 L429.7 457.9 L432.1 452.0 L436.9 446.0 L444.0 443.0 L451.2 442.4 L456.0 443.0" fill="none" stroke="#c49478" stroke-width="5" stroke-linejoin="round" clip-path="url(#c8)" opacity="0.65" filter="url(#sb)"/>
<path d="M378.8 443.6 L378.8 443.6 L383.0 445.4 L386.0 449.0 L388.4 452.0 L392.6 451.4 L399.7 453.8 L408.1 456.7 L417.7 459.1 L424.9 459.7 L429.7 457.9 L432.1 452.0 L436.9 446.0 L444.0 443.0 L451.2 442.4 L456.0 443.0" fill="none" stroke="#a8643c" stroke-width="1.8" stroke-linejoin="round" clip-path="url(#c8)" filter="url(#sb)"/>
<rect x="400.3" y="456.1" width="16.4" height="7.2" rx="0.8" fill="none" stroke="#1a1a1a" stroke-width="1.4" stroke-dasharray="2.8 1.5"/>
<line x1="382.4" y1="490.3" x2="393.8" y2="490.3" stroke="#151515" stroke-width="1.7"/>
<rect x="378.5" y="435.8" width="78.1" height="58.7" fill="none" stroke="#333" stroke-width="1.4"/>
<rect x="458.6" y="435.8" width="78.0" height="58.7" fill="#ededed"/>
<clipPath id="c9"><path d="M458.6 494.5 L458.6 451.4 L458.8 451.4 L471.4 449.6 L478.5 447.2 L484.5 445.4 L492.9 444.2 L507.3 444.2 L516.9 446.0 L524.0 449.6 L531.2 453.8 L536.0 455.5 L536.6 455.5 L536.6 494.5Z"/><path d="M519.2 435.8L536.6 435.8L536.6 441.8L528.8 439.4Z"/></clipPath>
<path d="M458.6 494.5 L458.6 451.4 L458.8 451.4 L471.4 449.6 L478.5 447.2 L484.5 445.4 L492.9 444.2 L507.3 444.2 L516.9 446.0 L524.0 449.6 L531.2 453.8 L536.0 455.5 L536.6 455.5 L536.6 494.5Z" fill="#dacad1"/>
<path d="M519.2 435.8L536.6 435.8L536.6 441.8L528.8 439.4Z" fill="#dacad1"/>
<rect x="458.6" y="435.8" width="78.0" height="58.7" filter="url(#pk1)" clip-path="url(#c9)"/>
<rect x="458.6" y="435.8" width="78.0" height="58.7" filter="url(#wh1)" clip-path="url(#c9)"/>
<rect x="462" y="447.2" width="16.8" height="6.6" rx="0.8" fill="none" stroke="#1a1a1a" stroke-width="1.4" stroke-dasharray="2.8 1.5"/>
<line x1="463.9" y1="490.3" x2="475" y2="490.3" stroke="#151515" stroke-width="1.7"/>
<rect x="458.6" y="435.8" width="78.0" height="58.7" fill="none" stroke="#333" stroke-width="1.4"/>
<rect x="297.4" y="499.8" width="78.8" height="28.4" fill="#eeeeee"/>
<clipPath id="c10"><path d="M297.4 528.2 L297.4 502.6 L297.8 502.6 L308.0 503.2 L316.3 505.0 L323.5 508.6 L330.7 512.2 L336.7 515.2 L343.9 516.3 L351.1 518.7 L358.2 520.5 L365.4 520.5 L372.6 522.9 L376.0 524.1 L376.2 524.1 L376.2 528.2Z"/></clipPath>
<path d="M297.4 528.2 L297.4 502.6 L297.8 502.6 L308.0 503.2 L316.3 505.0 L323.5 508.6 L330.7 512.2 L336.7 515.2 L343.9 516.3 L351.1 518.7 L358.2 520.5 L365.4 520.5 L372.6 522.9 L376.0 524.1 L376.2 524.1 L376.2 528.2Z" fill="#e8dbd8"/>
<rect x="297.4" y="499.8" width="78.8" height="28.4" filter="url(#br3)" clip-path="url(#c10)"/>
<rect x="297.4" y="499.8" width="78.8" height="28.4" filter="url(#wh2)" clip-path="url(#c10)"/>
<path d="M297.8 502.6 L297.8 502.6 L308.0 503.2 L316.3 505.0 L323.5 508.6 L330.7 512.2 L336.7 515.2 L343.9 516.3 L351.1 518.7 L358.2 520.5 L365.4 520.5 L372.6 522.9 L376.0 524.1" fill="none" stroke="#c89888" stroke-width="3" stroke-linejoin="round" clip-path="url(#c10)" opacity="0.6" filter="url(#sb)"/>
<ellipse cx="333.5" cy="513" rx="1.5" ry="3" fill="#8a3a20" opacity="0.8" filter="url(#sb)"/>
<ellipse cx="349" cy="518.5" rx="4" ry="1.6" fill="#7a2a15" opacity="0.8" filter="url(#sb)"/>
<ellipse cx="362" cy="520.8" rx="4" ry="1.4" fill="#7a2a15" opacity="0.8" filter="url(#sb)"/>
<ellipse cx="302" cy="508" rx="1.2" ry="1.2" fill="#8a3a30" opacity="0.7" filter="url(#sb)"/>
<ellipse cx="318" cy="521" rx="1.4" ry="1.4" fill="#8a3a30" opacity="0.7" filter="url(#sb)"/>
<ellipse cx="306" cy="510" rx="1.2" ry="1.2" fill="#8a3a30" opacity="0.6" filter="url(#sb)"/>
<ellipse cx="316" cy="516" rx="1.8" ry="1.4" fill="#8a3a30" opacity="0.6" filter="url(#sb)"/>
<ellipse cx="322" cy="507" rx="1.2" ry="1.2" fill="#8a4a40" opacity="0.6" filter="url(#sb)"/>
<path d="M297.8 502.6 L297.8 502.6 L308.0 503.2 L316.3 505.0 L323.5 508.6 L330.7 512.2 L336.7 515.2 L343.9 516.3 L351.1 518.7 L358.2 520.5 L365.4 520.5 L372.6 522.9 L376.0 524.1" fill="none" stroke="#9a4a30" stroke-width="1.4" stroke-linejoin="round" clip-path="url(#c10)" filter="url(#sb)"/>
<path d="M354.8 508.5L358.2 508.5L356.5 514.5Z" fill="#3f7fb2" transform="rotate(-60 356.5 511.5)"/>
<path d="M364.9 511.0L368.3 511.0L366.6 519.0Z" fill="#3f7fb2" transform="rotate(0 366.6 515.0)"/>
<rect x="297.4" y="499.8" width="78.8" height="28.4" fill="none" stroke="#333" stroke-width="1.4"/>
<rect x="378.5" y="499.8" width="78.1" height="28.4" fill="#eeeeee"/>
<clipPath id="c11"><path d="M378.5 528.2 L378.5 500.8 L378.8 500.8 L385.0 502.0 L392.0 504.0 L400.0 507.0 L406.9 510.4 L412.9 511.6 L420.1 513.4 L424.9 510.4 L430.9 509.2 L439.2 511.6 L444.0 509.8 L451.2 508.0 L456.0 507.4 L456.6 507.4 L456.6 528.2Z"/></clipPath>
<path d="M378.5 528.2 L378.5 500.8 L378.8 500.8 L385.0 502.0 L392.0 504.0 L400.0 507.0 L406.9 510.4 L412.9 511.6 L420.1 513.4 L424.9 510.4 L430.9 509.2 L439.2 511.6 L444.0 509.8 L451.2 508.0 L456.0 507.4 L456.6 507.4 L456.6 528.2Z" fill="#efe4e2"/>
<rect x="378.5" y="499.8" width="78.1" height="28.4" filter="url(#br3)" clip-path="url(#c11)"/>
<rect x="378.5" y="499.8" width="78.1" height="28.4" filter="url(#wh2)" clip-path="url(#c11)"/>
<path d="M378.8 500.8 L378.8 500.8 L385.0 502.0 L392.0 504.0 L400.0 507.0 L406.9 510.4 L412.9 511.6 L420.1 513.4 L424.9 510.4 L430.9 509.2 L439.2 511.6 L444.0 509.8 L451.2 508.0 L456.0 507.4" fill="none" stroke="#a85a35" stroke-width="7" stroke-linejoin="round" clip-path="url(#c11)" opacity="0.85" filter="url(#sb)"/>
<ellipse cx="410" cy="517" rx="2.5" ry="4" fill="#8a3a15" opacity="0.7" filter="url(#sb)"/>
<ellipse cx="417" cy="519" rx="2" ry="3" fill="#8a3a15" opacity="0.6" filter="url(#sb)"/>
<ellipse cx="395" cy="512" rx="2" ry="3" fill="#9a4a25" opacity="0.5" filter="url(#sb)"/>
<ellipse cx="438" cy="516" rx="2" ry="3" fill="#9a4a25" opacity="0.5" filter="url(#sb)"/>
<path d="M378.8 500.8 L378.8 500.8 L385.0 502.0 L392.0 504.0 L400.0 507.0 L406.9 510.4 L412.9 511.6 L420.1 513.4 L424.9 510.4 L430.9 509.2 L439.2 511.6 L444.0 509.8 L451.2 508.0 L456.0 507.4" fill="none" stroke="#8a3a15" stroke-width="2.2" stroke-linejoin="round" clip-path="url(#c11)" filter="url(#sb)"/>
<path d="M407.0 501.0L410.4 501.0L408.7 507.5Z" fill="#3f7fb2" transform="rotate(-60 408.7 504.25)"/>
<path d="M429.4 500.8L432.8 500.8L431.1 508.4Z" fill="#3f7fb2" transform="rotate(0 431.1 504.6)"/>
<path d="M440.9 504.0L444.3 504.0L442.6 513.0Z" fill="#3f7fb2" transform="rotate(0 442.6 508.5)"/>
<rect x="378.5" y="499.8" width="78.1" height="28.4" fill="none" stroke="#333" stroke-width="1.4"/>
<rect x="458.6" y="499.8" width="78.0" height="28.4" fill="#e9e9eb"/>
<clipPath id="c12"><path d="M458.6 528.2 L458.6 520.0 L459.4 520.0 L466.6 517.5 L475.0 517.0 L486.9 519.3 L496.5 518.1 L504.9 516.3 L509.7 513.4 L516.9 509.2 L524.0 506.2 L531.2 504.4 L536.0 503.2 L536.6 503.2 L536.6 528.2Z"/></clipPath>
<path d="M458.6 528.2 L458.6 520.0 L459.4 520.0 L466.6 517.5 L475.0 517.0 L486.9 519.3 L496.5 518.1 L504.9 516.3 L509.7 513.4 L516.9 509.2 L524.0 506.2 L531.2 504.4 L536.0 503.2 L536.6 503.2 L536.6 528.2Z" fill="#d9c4cd"/>
<rect x="458.6" y="499.8" width="78.0" height="28.4" filter="url(#pu2)" clip-path="url(#c12)"/>
<rect x="458.6" y="499.8" width="78.0" height="28.4" filter="url(#wh2)" clip-path="url(#c12)"/>
<ellipse cx="481" cy="519.5" rx="1.3" ry="1.3" fill="#5a3a50" opacity="0.7" filter="url(#sb)"/>
<ellipse cx="497" cy="518.5" rx="1.3" ry="1.3" fill="#5a3a50" opacity="0.7" filter="url(#sb)"/>
<ellipse cx="505" cy="517" rx="1.3" ry="1.3" fill="#5a3a50" opacity="0.7" filter="url(#sb)"/>
<ellipse cx="523" cy="510" rx="3" ry="2" fill="#a08aa0" opacity="0.5" filter="url(#sb)"/>
<path d="M468.7 507.0L472.1 507.0L470.4 514.6Z" fill="#3f7fb2" transform="rotate(0 470.4 510.8)"/>
<path d="M481.4 508.0L484.8 508.0L483.1 516.0Z" fill="#3f7fb2" transform="rotate(0 483.1 512.0)"/>
<path d="M507.7 503.0L511.1 503.0L509.4 511.6Z" fill="#3f7fb2" transform="rotate(0 509.4 507.3)"/>
<rect x="458.6" y="499.8" width="78.0" height="28.4" fill="none" stroke="#333" stroke-width="1.4"/>
<path d="M539.3 441.4L541.8 436.6L544.3 441.4Z" fill="#e8392a"/>
<text x="556.2" y="324.5" font-size="13" font-weight="bold">l</text>
<circle cx="578.7" cy="336.8" r="2.5" fill="#000"/>
<text x="594" y="339.9" font-size="12.4">Healthy</text>
<path d="M576.4 351.9L578.9 347.1L581.4 351.9Z" fill="#e8392a"/>
<text x="594" y="352.7" font-size="12.4" fill="#e8392a">Obesity&amp;T2DM</text>
<rect x="636.2" y="406.2" width="12.9" height="19.3" fill="#bdbdbd" stroke="#000" stroke-width="1.5"/>
<line x1="642.6500000000001" y1="406.2" x2="642.6500000000001" y2="399.5" stroke="#000" stroke-width="1.3"/>
<line x1="639.1500000000001" y1="399.5" x2="646.1500000000001" y2="399.5" stroke="#000" stroke-width="1.3"/>
<circle cx="641.7" cy="398.0" r="2.4" fill="#000"/>
<circle cx="645.2" cy="397.0" r="2.4" fill="#000"/>
<circle cx="638.7" cy="401.5" r="2.4" fill="#000"/>
<circle cx="642.7" cy="403.5" r="2.4" fill="#000"/>
<circle cx="646.7" cy="405.5" r="2.4" fill="#000"/>
<circle cx="640.7" cy="409.0" r="2.4" fill="#000"/>
<circle cx="643.7" cy="412.5" r="2.4" fill="#000"/>
<circle cx="639.2" cy="407.0" r="2.4" fill="#000"/>
<circle cx="645.7" cy="409.5" r="2.4" fill="#000"/>
<circle cx="642.7" cy="415.0" r="2.4" fill="#000"/>
<rect x="656.7" y="387.8" width="12.9" height="37.7" fill="none" stroke="#e8392a" stroke-width="1.5"/>
<line x1="663.1500000000001" y1="387.8" x2="663.1500000000001" y2="378.7" stroke="#e8392a" stroke-width="1.3"/>
<line x1="659.6500000000001" y1="378.7" x2="666.6500000000001" y2="378.7" stroke="#e8392a" stroke-width="1.3"/>
<path d="M660.6 380.0L663.2 375.0L665.8 380.0Z" fill="#e8392a"/>
<path d="M657.1 388.5L659.7 383.5L662.3 388.5Z" fill="#e8392a"/>
<path d="M665.6 386.5L668.2 381.5L670.8 386.5Z" fill="#e8392a"/>
<path d="M660.6 394.0L663.2 389.0L665.8 394.0Z" fill="#e8392a"/>
<path d="M658.1 396.5L660.7 391.5L663.3 396.5Z" fill="#e8392a"/>
<path d="M661.6 402.0L664.2 397.0L666.8 402.0Z" fill="#e8392a"/>
<path d="M642.6 385.1V367.5H663.2V371" fill="none" stroke="#000" stroke-width="0.9"/>
<text x="652.9" y="367.2" font-size="11.2" font-weight="bold" text-anchor="middle" style="font-family:'Liberation Sans',sans-serif">**</text>
<line x1="632.6" y1="373.6" x2="632.6" y2="426.5" stroke="#000" stroke-width="2"/>
<line x1="631.6" y1="425.5" x2="673.6" y2="425.5" stroke="#000" stroke-width="2"/>
<line x1="628.1" y1="374.6" x2="632.6" y2="374.6" stroke="#000" stroke-width="1.6"/>
<text x="626.4" y="378.6" font-size="13.2" text-anchor="end">250</text>
<line x1="628.1" y1="389.5" x2="632.6" y2="389.5" stroke="#000" stroke-width="1.6"/>
<text x="626.4" y="393.5" font-size="13.2" text-anchor="end">200</text>
<line x1="628.1" y1="404.6" x2="632.6" y2="404.6" stroke="#000" stroke-width="1.6"/>
<text x="626.4" y="408.6" font-size="13.2" text-anchor="end">150</text>
<line x1="628.1" y1="419.5" x2="632.6" y2="419.5" stroke="#000" stroke-width="1.6"/>
<text x="626.4" y="423.5" font-size="13.2" text-anchor="end">100</text>
<line x1="642.6" y1="425.5" x2="642.6" y2="429.5" stroke="#000" stroke-width="1.6"/>
<line x1="663.2" y1="425.5" x2="663.2" y2="429.5" stroke="#000" stroke-width="1.6"/>
<text transform="translate(574.2,396.3) rotate(-90)" font-size="12.4" text-anchor="middle">Endothelial</text>
<text transform="translate(587.7,395.6) rotate(-90)" font-size="13.0" text-anchor="middle">FUNDC1</text>
<text transform="translate(600.6,395.6) rotate(-90)" font-size="12.2" text-anchor="middle">(density/area)</text>
<rect x="637.5" y="491.9" width="12.2" height="25.7" fill="#bdbdbd" stroke="#000" stroke-width="1.5"/>
<circle cx="643.6" cy="485.5" r="2.4" fill="#000"/>
<circle cx="640.6" cy="489.0" r="2.4" fill="#000"/>
<circle cx="646.6" cy="488.5" r="2.4" fill="#000"/>
<circle cx="639.1" cy="491.0" r="2.4" fill="#000"/>
<circle cx="648.1" cy="491.5" r="2.4" fill="#000"/>
<circle cx="643.6" cy="490.5" r="2.4" fill="#000"/>
<circle cx="641.6" cy="493.0" r="2.4" fill="#000"/>
<circle cx="645.6" cy="493.0" r="2.4" fill="#000"/>
<rect x="657.5" y="478.1" width="13.7" height="39.5" fill="none" stroke="#e8392a" stroke-width="1.5"/>
<line x1="664.35" y1="478.1" x2="664.35" y2="472.5" stroke="#e8392a" stroke-width="1.3"/>
<line x1="660.85" y1="472.5" x2="667.85" y2="472.5" stroke="#e8392a" stroke-width="1.3"/>
<path d="M661.8 471.5L664.4 466.5L667.0 471.5Z" fill="#e8392a"/>
<path d="M658.2 478.5L660.9 473.5L663.5 478.5Z" fill="#e8392a"/>
<path d="M665.2 479.5L667.9 474.5L670.5 479.5Z" fill="#e8392a"/>
<path d="M661.8 482.5L664.4 477.5L667.0 482.5Z" fill="#e8392a"/>
<path d="M659.8 486.5L662.4 481.5L665.0 486.5Z" fill="#e8392a"/>
<path d="M663.8 484.5L666.4 479.5L669.0 484.5Z" fill="#e8392a"/>
<path d="M643.6 477.4V460.4H664.4V464.6" fill="none" stroke="#000" stroke-width="0.9"/>
<text x="654.0" y="460.0" font-size="11.2" font-weight="bold" text-anchor="middle" style="font-family:'Liberation Sans',sans-serif">***</text>
<line x1="633.8" y1="466.4" x2="633.8" y2="518.6" stroke="#000" stroke-width="2"/>
<line x1="632.8" y1="517.6" x2="674.9" y2="517.6" stroke="#000" stroke-width="2"/>
<line x1="629.3" y1="467.4" x2="633.8" y2="467.4" stroke="#000" stroke-width="1.6"/>
<text x="627.6999999999999" y="471.0" font-size="13.2" text-anchor="end">300</text>
<line x1="629.3" y1="484.3" x2="633.8" y2="484.3" stroke="#000" stroke-width="1.6"/>
<text x="627.6999999999999" y="487.90000000000003" font-size="13.2" text-anchor="end">200</text>
<line x1="629.3" y1="501" x2="633.8" y2="501" stroke="#000" stroke-width="1.6"/>
<text x="627.6999999999999" y="504.6" font-size="13.2" text-anchor="end">100</text>
<line x1="629.3" y1="517.6" x2="633.8" y2="517.6" stroke="#000" stroke-width="1.6"/>
<text x="627.6999999999999" y="521.2" font-size="13.2" text-anchor="end">0</text>
<line x1="643.6" y1="517.6" x2="643.6" y2="521.6" stroke="#000" stroke-width="1.6"/>
<line x1="664.4" y1="517.6" x2="664.4" y2="521.6" stroke="#000" stroke-width="1.6"/>
<text transform="translate(575,488.5) rotate(-90)" font-size="12.4" text-anchor="middle">Endothelial</text>
<text transform="translate(589,490.6) rotate(-90)" font-size="12.6" text-anchor="middle">ET-1</text>
<text transform="translate(601.8,487.7) rotate(-90)" font-size="12.0" text-anchor="middle">(density/area)</text>
</svg></body></html>
